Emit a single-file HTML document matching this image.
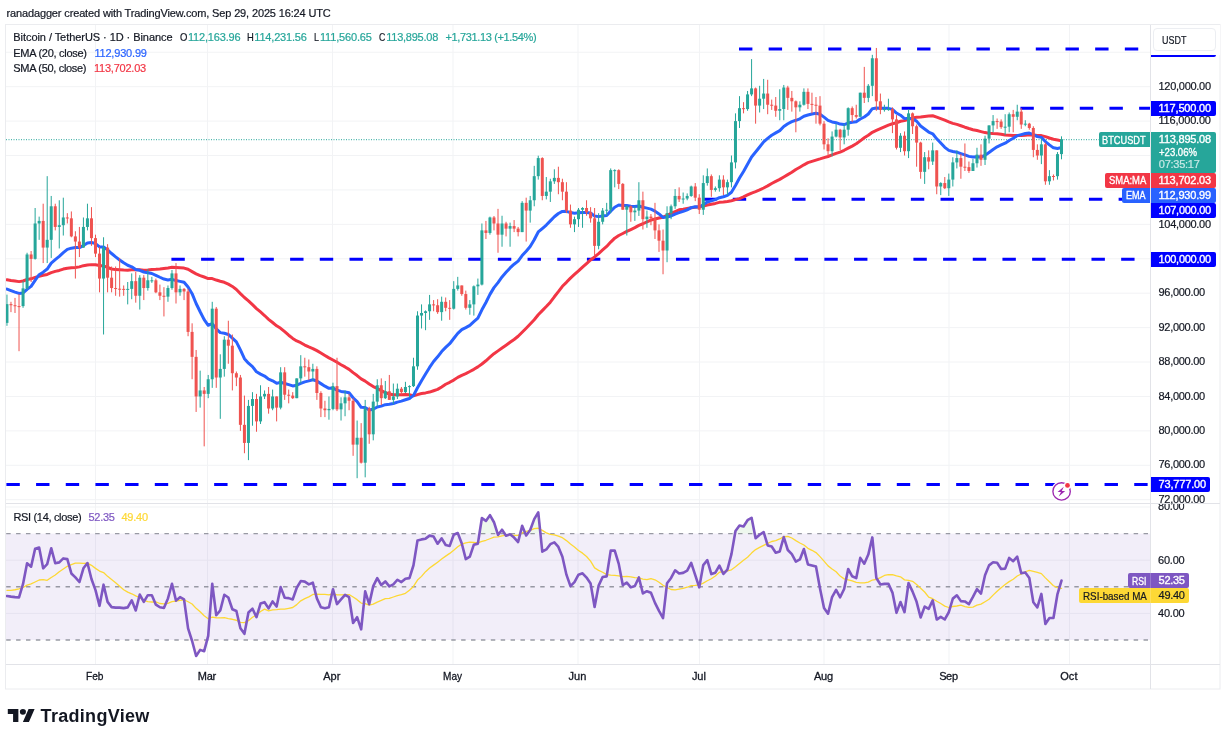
<!DOCTYPE html>
<html><head><meta charset="utf-8"><title>BTCUSDT</title>
<style>
html,body{margin:0;padding:0;background:#fff;}
body{width:1229px;height:742px;position:relative;overflow:hidden;font-family:"Liberation Sans",sans-serif;}
.t{position:absolute;white-space:pre;font-family:"Liberation Sans",sans-serif;}
</style></head><body>
<svg width="1229" height="742" viewBox="0 0 1229 742" style="position:absolute;left:0;top:0"><defs><clipPath id="cm"><rect x="6" y="25" width="1144" height="478"/></clipPath><clipPath id="cr"><rect x="6" y="504" width="1144" height="160"/></clipPath></defs><rect x="5.5" y="24.5" width="1214.5" height="664.5" fill="#fff" stroke="#ebecef" stroke-width="1"/><rect x="95.0" y="25" width="1" height="639" fill="#f2f3f5"/><rect x="207.0" y="25" width="1" height="639" fill="#f2f3f5"/><rect x="332.0" y="25" width="1" height="639" fill="#f2f3f5"/><rect x="452.5" y="25" width="1" height="639" fill="#f2f3f5"/><rect x="577.5" y="25" width="1" height="639" fill="#f2f3f5"/><rect x="699.0" y="25" width="1" height="639" fill="#f2f3f5"/><rect x="823.5" y="25" width="1" height="639" fill="#f2f3f5"/><rect x="948.5" y="25" width="1" height="639" fill="#f2f3f5"/><rect x="1069.0" y="25" width="1" height="639" fill="#f2f3f5"/><rect x="6" y="499.21" width="1144" height="1" fill="#f2f3f5"/><rect x="6" y="464.79" width="1144" height="1" fill="#f2f3f5"/><rect x="6" y="430.37" width="1144" height="1" fill="#f2f3f5"/><rect x="6" y="395.95" width="1144" height="1" fill="#f2f3f5"/><rect x="6" y="361.53" width="1144" height="1" fill="#f2f3f5"/><rect x="6" y="327.11" width="1144" height="1" fill="#f2f3f5"/><rect x="6" y="292.69" width="1144" height="1" fill="#f2f3f5"/><rect x="6" y="258.27" width="1144" height="1" fill="#f2f3f5"/><rect x="6" y="223.85" width="1144" height="1" fill="#f2f3f5"/><rect x="6" y="189.43" width="1144" height="1" fill="#f2f3f5"/><rect x="6" y="155.01" width="1144" height="1" fill="#f2f3f5"/><rect x="6" y="120.59" width="1144" height="1" fill="#f2f3f5"/><rect x="6" y="86.17" width="1144" height="1" fill="#f2f3f5"/><rect x="6" y="51.75" width="1144" height="1" fill="#f2f3f5"/><rect x="6" y="506.50" width="1144" height="1" fill="#f2f3f5"/><rect x="6" y="559.70" width="1144" height="1" fill="#f2f3f5"/><rect x="6" y="612.90" width="1144" height="1" fill="#f2f3f5"/><rect x="6" y="533.60" width="1144" height="106.40" fill="#7e57c2" fill-opacity="0.1"/><line x1="6.2" x2="1148.5" y1="533.60" y2="533.60" stroke="#787b86" stroke-opacity="0.75" stroke-width="1.4" stroke-dasharray="4.45 5.44"/><line x1="6.2" x2="1148.5" y1="586.80" y2="586.80" stroke="#787b86" stroke-opacity="0.75" stroke-width="1.4" stroke-dasharray="4.45 5.44"/><line x1="6.2" x2="1148.5" y1="640.00" y2="640.00" stroke="#787b86" stroke-opacity="0.75" stroke-width="1.4" stroke-dasharray="4.45 5.44"/><line x1="6" x2="1150" y1="139.7" y2="139.7" stroke="#26a69a" stroke-width="1" stroke-dasharray="1 1.5"/><g clip-path="url(#cm)"><line x1="739" x2="1150" y1="49" y2="49" stroke="#0000ff" stroke-width="3" stroke-dasharray="13.4 16.28"/><line x1="901.7" x2="1150" y1="108.3" y2="108.3" stroke="#0000ff" stroke-width="3" stroke-dasharray="13.4 16.28"/><line x1="703.1" x2="1150" y1="199.2" y2="199.2" stroke="#0000ff" stroke-width="3" stroke-dasharray="13.4 16.28"/><line x1="171.4" x2="1150" y1="259.3" y2="259.3" stroke="#0000ff" stroke-width="3" stroke-dasharray="13.4 16.28"/><line x1="6.4" x2="1150" y1="484.4" y2="484.4" stroke="#0000ff" stroke-width="3" stroke-dasharray="13.4 16.28"/><polyline points="6.95,279.71 10.97,280.47 15.00,281.02 19.02,281.63 23.05,281.01 27.07,279.53 31.10,278.83 35.12,277.37 39.15,276.16 43.17,275.32 47.20,274.46 51.22,272.69 55.25,271.34 59.27,270.43 63.30,269.07 67.32,268.21 71.35,267.73 75.38,267.57 79.40,266.89 83.42,265.66 87.45,265.04 91.47,264.63 95.50,264.77 99.53,265.41 103.55,265.94 107.58,267.35 111.60,268.99 115.62,269.62 119.65,269.79 123.68,270.04 127.70,270.17 131.72,269.79 135.75,269.66 139.78,269.81 143.80,270.29 147.82,270.00 151.85,269.45 155.88,269.31 159.90,268.97 163.93,268.49 167.95,267.97 171.98,267.33 176.00,267.47 180.03,267.76 184.05,268.11 188.07,269.30 192.10,271.64 196.12,273.86 200.15,275.63 204.18,277.04 208.20,278.54 212.23,278.61 216.25,280.04 220.28,281.29 224.30,282.32 228.33,284.14 232.35,286.43 236.38,289.51 240.40,293.59 244.43,297.49 248.45,300.81 252.48,304.67 256.50,308.56 260.52,311.98 264.55,315.51 268.58,319.31 272.60,322.52 276.62,325.84 280.65,328.33 284.68,331.69 288.70,335.23 292.73,338.44 296.75,340.93 300.77,342.69 304.80,345.08 308.83,346.95 312.85,348.57 316.88,350.65 320.90,353.05 324.93,355.46 328.95,357.86 332.98,359.96 337.00,362.23 341.03,364.74 345.05,366.93 349.08,369.34 353.10,372.62 357.12,375.53 361.15,378.87 365.18,381.11 369.20,384.03 373.23,386.60 377.25,388.46 381.28,390.64 385.30,392.64 389.33,394.00 393.35,394.79 397.38,394.63 401.40,394.67 405.43,394.53 409.45,394.67 413.48,395.82 417.50,394.58 421.53,393.46 425.55,392.90 429.58,392.07 433.60,390.71 437.63,389.40 441.65,386.94 445.68,384.24 449.70,382.29 453.73,380.09 457.75,377.37 461.78,375.32 465.80,373.60 469.83,371.52 473.85,369.32 477.88,366.86 481.90,364.02 485.93,360.78 489.95,357.22 493.98,353.73 498.00,350.85 502.03,348.00 506.05,345.22 510.08,342.32 514.10,339.51 518.12,336.29 522.15,332.18 526.17,328.19 530.20,324.01 534.23,319.81 538.25,314.79 542.28,310.64 546.30,306.53 550.33,302.14 554.35,296.80 558.38,291.69 562.40,286.27 566.43,282.31 570.45,278.11 574.48,274.47 578.50,270.95 582.53,267.15 586.55,263.57 590.58,259.94 594.60,256.93 598.62,253.59 602.65,249.96 606.68,246.41 610.70,242.09 614.73,238.17 618.75,235.54 622.78,233.47 626.80,231.37 630.83,229.53 634.85,227.64 638.88,225.40 642.90,223.75 646.93,221.92 650.95,220.12 654.98,218.95 659.00,218.05 663.03,217.18 667.05,215.29 671.08,213.33 675.10,211.52 679.12,209.81 683.15,209.18 687.18,208.44 691.20,207.82 695.23,207.30 699.25,206.80 703.28,205.99 707.30,204.94 711.33,204.22 715.35,203.41 719.38,202.36 723.40,202.05 727.43,201.48 731.45,200.73 735.48,199.63 739.50,198.63 743.53,196.89 747.55,194.94 751.58,193.09 755.60,191.64 759.63,189.97 763.65,188.01 767.68,185.89 771.70,183.52 775.73,181.35 779.75,179.34 783.78,176.93 787.80,174.64 791.83,172.30 795.85,169.53 799.88,167.19 803.90,164.81 807.93,162.69 811.95,161.39 815.98,160.09 820.00,158.89 824.03,157.58 828.05,156.48 832.08,154.97 836.10,153.35 840.13,152.09 844.15,150.30 848.18,148.13 852.20,146.07 856.23,143.80 860.25,140.84 864.28,137.78 868.30,135.24 872.33,132.28 876.35,130.38 880.38,128.59 884.40,126.80 888.43,125.07 892.45,123.72 896.48,122.72 900.50,121.24 904.53,120.61 908.55,119.35 912.58,118.08 916.60,117.17 920.63,117.01 924.65,116.41 928.68,116.00 932.70,115.75 936.73,117.06 940.75,118.56 944.78,120.14 948.80,121.85 952.83,123.33 956.85,124.38 960.88,125.74 964.90,127.21 968.93,128.53 972.95,129.69 976.98,130.56 981.00,131.58 985.03,132.60 989.05,133.15 993.08,133.55 997.10,133.83 1001.13,134.28 1005.15,134.98 1009.18,135.18 1013.20,135.42 1017.23,135.54 1021.25,135.56 1025.28,135.15 1029.30,134.68 1033.33,134.95 1037.35,135.47 1041.38,135.60 1045.40,136.64 1049.43,138.00 1053.45,139.22 1057.48,139.97 1061.50,140.90" fill="none" stroke="#f23645" stroke-width="3" stroke-linejoin="round" stroke-linecap="round" /><polyline points="6.95,289.03 10.97,290.57 15.00,292.05 19.02,293.42 23.05,292.94 27.07,289.28 31.10,286.38 35.12,280.39 39.15,274.72 43.17,272.14 47.20,269.06 51.22,263.08 55.25,259.64 59.27,256.36 63.30,252.66 67.32,249.39 71.35,248.15 75.38,247.52 79.40,247.53 83.42,245.57 87.45,242.97 91.47,242.51 95.50,243.57 99.53,246.90 103.55,246.97 107.58,249.89 111.60,253.52 115.62,256.89 119.65,259.94 123.68,262.78 127.70,265.26 131.72,266.78 135.75,269.54 139.78,270.32 143.80,272.00 147.82,272.79 151.85,273.50 155.88,275.30 159.90,277.25 163.93,279.09 167.95,279.94 171.98,279.32 176.00,280.56 180.03,281.35 184.05,282.32 188.07,287.04 192.10,293.69 196.12,303.48 200.15,311.76 204.18,319.58 208.20,325.26 212.23,323.68 216.25,328.81 220.28,332.63 224.30,333.30 228.33,334.48 232.35,338.17 236.38,341.91 240.40,349.81 244.43,358.68 248.45,363.18 252.48,366.59 256.50,371.81 260.52,374.16 264.55,376.04 268.58,379.13 272.60,380.78 276.62,383.34 280.65,382.29 284.68,383.47 288.70,384.63 292.73,385.92 296.75,385.20 300.77,383.40 304.80,381.86 308.83,380.87 312.85,379.73 316.88,381.00 320.90,383.62 324.93,386.15 328.95,388.32 332.98,388.11 337.00,390.13 341.03,391.39 345.05,391.95 349.08,392.79 353.10,397.73 357.12,401.54 361.15,407.37 365.18,407.48 369.20,410.03 373.23,409.23 377.25,406.95 381.28,406.11 385.30,404.70 389.33,404.24 393.35,403.50 397.38,402.09 401.40,401.14 405.43,399.79 409.45,398.49 413.48,395.43 417.50,387.82 421.53,380.70 425.55,374.08 429.58,367.44 433.60,361.52 437.63,356.82 441.65,351.58 445.68,347.41 449.70,343.72 453.73,338.50 457.75,333.44 461.78,329.69 465.80,327.61 469.83,325.40 473.85,321.67 477.88,318.14 481.90,309.78 485.93,302.47 489.95,294.37 493.98,287.62 498.00,282.58 502.03,276.95 506.05,272.35 510.08,267.94 514.10,264.20 518.12,261.14 522.15,255.59 526.17,251.30 530.20,246.44 534.23,239.75 538.25,231.97 542.28,228.54 546.30,225.03 550.33,220.87 554.35,216.77 558.38,213.48 562.40,211.40 566.43,211.32 570.45,212.56 574.48,213.19 578.50,212.86 582.53,212.40 586.55,212.39 590.58,212.96 594.60,216.09 598.62,216.63 602.65,216.05 606.68,215.45 610.70,211.14 614.73,207.23 618.75,205.01 622.78,205.46 626.80,205.54 630.83,206.18 634.85,206.60 638.88,206.00 642.90,207.25 646.93,208.14 650.95,209.11 654.98,211.14 659.00,213.95 663.03,217.43 667.05,217.03 671.08,216.00 675.10,214.09 679.12,212.69 683.15,211.35 687.18,209.88 691.20,207.65 695.23,206.70 699.25,206.99 703.28,204.71 707.30,201.99 711.33,200.84 715.35,199.64 719.38,197.73 723.40,196.74 727.43,195.36 731.45,192.22 735.48,185.44 739.50,178.08 743.53,171.51 747.55,164.17 751.58,156.95 755.60,152.06 759.63,146.98 763.65,141.89 767.68,138.35 771.70,135.23 775.73,132.90 779.75,130.63 783.78,126.53 787.80,123.80 791.83,121.65 795.85,120.29 799.88,118.81 803.90,116.24 807.93,115.06 811.95,114.08 815.98,113.27 820.00,114.26 824.03,117.12 828.05,120.37 832.08,121.91 836.10,122.66 840.13,124.06 844.15,124.60 848.18,123.04 852.20,122.28 856.23,121.75 860.25,118.99 864.28,116.97 868.30,114.01 872.33,108.70 876.35,107.99 880.38,108.18 884.40,108.26 888.43,108.33 892.45,109.38 896.48,113.04 900.50,115.20 904.53,118.63 908.55,118.13 912.58,118.90 916.60,121.16 920.63,125.99 924.65,128.96 928.68,132.06 932.70,133.80 936.73,138.82 940.75,143.03 944.78,147.34 948.80,150.41 952.83,151.55 956.85,152.17 960.88,153.56 964.90,154.85 968.93,156.39 972.95,157.04 976.98,156.81 981.00,157.10 985.03,155.34 989.05,152.49 993.08,149.50 997.10,146.83 1001.13,144.96 1005.15,143.22 1009.18,140.45 1013.20,138.20 1017.23,135.67 1021.25,134.61 1025.28,133.57 1029.30,133.03 1033.33,134.64 1037.35,136.63 1041.38,137.36 1045.40,141.55 1049.43,144.85 1053.45,147.83 1057.48,148.43 1061.50,147.55" fill="none" stroke="#2962ff" stroke-width="3" stroke-linejoin="round" stroke-linecap="round" /><rect x="6.45" y="294.57" width="1" height="31.24" fill="#26a69a"/>
<rect x="5.45" y="304.12" width="3" height="18.76" fill="#26a69a"/>
<rect x="10.47" y="301.80" width="1" height="10.33" fill="#ef5350"/>
<rect x="9.47" y="304.12" width="3" height="1.12" fill="#ef5350"/>
<rect x="14.50" y="297.92" width="1" height="15.06" fill="#ef5350"/>
<rect x="13.50" y="305.24" width="3" height="1.00" fill="#ef5350"/>
<rect x="18.52" y="294.05" width="1" height="57.14" fill="#ef5350"/>
<rect x="17.52" y="306.10" width="3" height="1.00" fill="#ef5350"/>
<rect x="22.55" y="281.14" width="1" height="26.68" fill="#26a69a"/>
<rect x="21.55" y="288.37" width="3" height="17.73" fill="#26a69a"/>
<rect x="26.57" y="252.75" width="1" height="37.00" fill="#26a69a"/>
<rect x="25.57" y="254.47" width="3" height="33.90" fill="#26a69a"/>
<rect x="30.60" y="251.03" width="1" height="30.98" fill="#ef5350"/>
<rect x="29.60" y="254.47" width="3" height="4.39" fill="#ef5350"/>
<rect x="34.62" y="208.00" width="1" height="51.63" fill="#26a69a"/>
<rect x="33.62" y="223.49" width="3" height="35.37" fill="#26a69a"/>
<rect x="38.65" y="216.61" width="1" height="23.23" fill="#26a69a"/>
<rect x="37.65" y="220.91" width="3" height="2.58" fill="#26a69a"/>
<rect x="42.67" y="203.70" width="1" height="59.37" fill="#ef5350"/>
<rect x="41.67" y="220.91" width="3" height="26.68" fill="#ef5350"/>
<rect x="46.70" y="176.16" width="1" height="86.91" fill="#26a69a"/>
<rect x="45.70" y="239.84" width="3" height="7.74" fill="#26a69a"/>
<rect x="50.72" y="195.95" width="1" height="61.96" fill="#26a69a"/>
<rect x="49.72" y="206.28" width="3" height="33.56" fill="#26a69a"/>
<rect x="54.75" y="203.70" width="1" height="26.68" fill="#ef5350"/>
<rect x="53.75" y="206.28" width="3" height="20.65" fill="#ef5350"/>
<rect x="58.77" y="200.26" width="1" height="48.19" fill="#26a69a"/>
<rect x="57.77" y="225.21" width="3" height="1.72" fill="#26a69a"/>
<rect x="62.80" y="197.67" width="1" height="37.86" fill="#26a69a"/>
<rect x="61.80" y="217.47" width="3" height="7.74" fill="#26a69a"/>
<rect x="66.82" y="213.16" width="1" height="10.33" fill="#ef5350"/>
<rect x="65.82" y="217.47" width="3" height="1.00" fill="#ef5350"/>
<rect x="70.85" y="211.44" width="1" height="25.82" fill="#ef5350"/>
<rect x="69.85" y="218.33" width="3" height="18.07" fill="#ef5350"/>
<rect x="74.88" y="231.23" width="1" height="47.33" fill="#ef5350"/>
<rect x="73.88" y="236.40" width="3" height="5.16" fill="#ef5350"/>
<rect x="78.90" y="226.93" width="1" height="30.12" fill="#ef5350"/>
<rect x="77.90" y="241.56" width="3" height="6.02" fill="#ef5350"/>
<rect x="82.92" y="217.47" width="1" height="30.12" fill="#26a69a"/>
<rect x="81.92" y="226.93" width="3" height="20.65" fill="#26a69a"/>
<rect x="86.95" y="203.70" width="1" height="26.68" fill="#26a69a"/>
<rect x="85.95" y="218.33" width="3" height="8.60" fill="#26a69a"/>
<rect x="90.97" y="207.14" width="1" height="38.72" fill="#ef5350"/>
<rect x="89.97" y="218.33" width="3" height="19.79" fill="#ef5350"/>
<rect x="95.00" y="234.68" width="1" height="22.37" fill="#ef5350"/>
<rect x="94.00" y="238.12" width="3" height="15.49" fill="#ef5350"/>
<rect x="99.03" y="246.72" width="1" height="45.61" fill="#ef5350"/>
<rect x="98.03" y="253.61" width="3" height="24.95" fill="#ef5350"/>
<rect x="103.05" y="237.26" width="1" height="97.24" fill="#26a69a"/>
<rect x="102.05" y="247.58" width="3" height="30.98" fill="#26a69a"/>
<rect x="107.08" y="244.14" width="1" height="48.19" fill="#ef5350"/>
<rect x="106.08" y="247.58" width="3" height="30.12" fill="#ef5350"/>
<rect x="111.10" y="266.51" width="1" height="25.81" fill="#ef5350"/>
<rect x="110.10" y="277.70" width="3" height="10.33" fill="#ef5350"/>
<rect x="115.12" y="266.51" width="1" height="29.26" fill="#ef5350"/>
<rect x="114.12" y="288.03" width="3" height="1.00" fill="#ef5350"/>
<rect x="119.15" y="257.91" width="1" height="38.72" fill="#ef5350"/>
<rect x="118.15" y="288.72" width="3" height="1.00" fill="#ef5350"/>
<rect x="123.18" y="285.45" width="1" height="10.33" fill="#ef5350"/>
<rect x="122.18" y="288.89" width="3" height="1.00" fill="#ef5350"/>
<rect x="127.20" y="282.00" width="1" height="22.37" fill="#26a69a"/>
<rect x="126.20" y="288.89" width="3" height="1.00" fill="#26a69a"/>
<rect x="131.22" y="273.40" width="1" height="25.82" fill="#26a69a"/>
<rect x="130.22" y="281.14" width="3" height="7.74" fill="#26a69a"/>
<rect x="135.25" y="271.68" width="1" height="30.98" fill="#ef5350"/>
<rect x="134.25" y="281.14" width="3" height="14.63" fill="#ef5350"/>
<rect x="139.28" y="275.12" width="1" height="34.42" fill="#26a69a"/>
<rect x="138.28" y="277.70" width="3" height="18.07" fill="#26a69a"/>
<rect x="143.30" y="275.12" width="1" height="24.95" fill="#ef5350"/>
<rect x="142.30" y="277.70" width="3" height="10.33" fill="#ef5350"/>
<rect x="147.32" y="269.10" width="1" height="21.51" fill="#26a69a"/>
<rect x="146.32" y="280.28" width="3" height="7.74" fill="#26a69a"/>
<rect x="151.35" y="276.84" width="1" height="6.02" fill="#26a69a"/>
<rect x="150.35" y="280.28" width="3" height="1.00" fill="#26a69a"/>
<rect x="155.38" y="278.56" width="1" height="14.63" fill="#ef5350"/>
<rect x="154.38" y="280.28" width="3" height="12.05" fill="#ef5350"/>
<rect x="159.40" y="284.59" width="1" height="15.49" fill="#ef5350"/>
<rect x="158.40" y="292.33" width="3" height="3.44" fill="#ef5350"/>
<rect x="163.43" y="287.17" width="1" height="29.26" fill="#ef5350"/>
<rect x="162.43" y="295.77" width="3" height="1.00" fill="#ef5350"/>
<rect x="167.45" y="285.45" width="1" height="16.35" fill="#26a69a"/>
<rect x="166.45" y="288.03" width="3" height="8.61" fill="#26a69a"/>
<rect x="171.48" y="269.96" width="1" height="19.79" fill="#26a69a"/>
<rect x="170.48" y="273.40" width="3" height="14.63" fill="#26a69a"/>
<rect x="175.50" y="263.07" width="1" height="40.44" fill="#ef5350"/>
<rect x="174.50" y="273.40" width="3" height="18.93" fill="#ef5350"/>
<rect x="179.53" y="285.45" width="1" height="10.33" fill="#26a69a"/>
<rect x="178.53" y="288.89" width="3" height="3.44" fill="#26a69a"/>
<rect x="183.55" y="288.03" width="1" height="12.05" fill="#ef5350"/>
<rect x="182.55" y="288.89" width="3" height="2.58" fill="#ef5350"/>
<rect x="187.57" y="288.89" width="1" height="47.33" fill="#ef5350"/>
<rect x="186.57" y="291.47" width="3" height="40.44" fill="#ef5350"/>
<rect x="191.60" y="323.31" width="1" height="55.93" fill="#ef5350"/>
<rect x="190.60" y="331.91" width="3" height="24.95" fill="#ef5350"/>
<rect x="195.62" y="349.98" width="1" height="61.96" fill="#ef5350"/>
<rect x="194.62" y="356.87" width="3" height="39.58" fill="#ef5350"/>
<rect x="199.65" y="370.63" width="1" height="37.00" fill="#26a69a"/>
<rect x="198.65" y="390.43" width="3" height="6.02" fill="#26a69a"/>
<rect x="203.68" y="386.98" width="1" height="59.37" fill="#ef5350"/>
<rect x="202.68" y="390.43" width="3" height="3.44" fill="#ef5350"/>
<rect x="207.70" y="374.94" width="1" height="23.23" fill="#26a69a"/>
<rect x="206.70" y="379.24" width="3" height="14.63" fill="#26a69a"/>
<rect x="211.73" y="301.80" width="1" height="86.05" fill="#26a69a"/>
<rect x="210.73" y="308.68" width="3" height="70.56" fill="#26a69a"/>
<rect x="215.75" y="306.96" width="1" height="80.89" fill="#ef5350"/>
<rect x="214.75" y="308.68" width="3" height="68.84" fill="#ef5350"/>
<rect x="219.78" y="354.29" width="1" height="64.54" fill="#26a69a"/>
<rect x="218.78" y="368.91" width="3" height="8.61" fill="#26a69a"/>
<rect x="223.80" y="336.22" width="1" height="40.44" fill="#26a69a"/>
<rect x="222.80" y="339.66" width="3" height="29.26" fill="#26a69a"/>
<rect x="227.83" y="320.73" width="1" height="43.02" fill="#ef5350"/>
<rect x="226.83" y="339.66" width="3" height="6.02" fill="#ef5350"/>
<rect x="231.85" y="334.49" width="1" height="55.93" fill="#ef5350"/>
<rect x="230.85" y="345.68" width="3" height="27.54" fill="#ef5350"/>
<rect x="235.88" y="371.50" width="1" height="14.63" fill="#ef5350"/>
<rect x="234.88" y="373.22" width="3" height="4.30" fill="#ef5350"/>
<rect x="239.90" y="374.94" width="1" height="55.93" fill="#ef5350"/>
<rect x="238.90" y="377.52" width="3" height="47.33" fill="#ef5350"/>
<rect x="243.93" y="395.59" width="1" height="57.65" fill="#ef5350"/>
<rect x="242.93" y="424.85" width="3" height="18.07" fill="#ef5350"/>
<rect x="247.95" y="399.89" width="1" height="60.24" fill="#26a69a"/>
<rect x="246.95" y="405.92" width="3" height="37.00" fill="#26a69a"/>
<rect x="251.98" y="392.15" width="1" height="33.56" fill="#26a69a"/>
<rect x="250.98" y="399.03" width="3" height="6.88" fill="#26a69a"/>
<rect x="256.00" y="393.87" width="1" height="37.86" fill="#ef5350"/>
<rect x="255.00" y="399.03" width="3" height="22.37" fill="#ef5350"/>
<rect x="260.02" y="385.26" width="1" height="38.72" fill="#26a69a"/>
<rect x="259.02" y="396.45" width="3" height="24.95" fill="#26a69a"/>
<rect x="264.05" y="390.43" width="1" height="8.61" fill="#26a69a"/>
<rect x="263.05" y="393.87" width="3" height="2.58" fill="#26a69a"/>
<rect x="268.08" y="386.98" width="1" height="26.68" fill="#ef5350"/>
<rect x="267.08" y="393.87" width="3" height="14.63" fill="#ef5350"/>
<rect x="272.10" y="389.57" width="1" height="20.65" fill="#26a69a"/>
<rect x="271.10" y="396.45" width="3" height="12.05" fill="#26a69a"/>
<rect x="276.12" y="396.45" width="1" height="24.95" fill="#ef5350"/>
<rect x="275.12" y="396.45" width="3" height="11.19" fill="#ef5350"/>
<rect x="280.15" y="367.19" width="1" height="42.16" fill="#26a69a"/>
<rect x="279.15" y="372.36" width="3" height="35.28" fill="#26a69a"/>
<rect x="284.18" y="367.19" width="1" height="32.70" fill="#ef5350"/>
<rect x="283.18" y="372.36" width="3" height="22.37" fill="#ef5350"/>
<rect x="288.20" y="389.57" width="1" height="13.77" fill="#ef5350"/>
<rect x="287.20" y="394.73" width="3" height="1.00" fill="#ef5350"/>
<rect x="292.23" y="392.15" width="1" height="6.88" fill="#ef5350"/>
<rect x="291.23" y="395.59" width="3" height="2.58" fill="#ef5350"/>
<rect x="296.25" y="378.38" width="1" height="19.79" fill="#26a69a"/>
<rect x="295.25" y="378.38" width="3" height="19.79" fill="#26a69a"/>
<rect x="300.27" y="355.15" width="1" height="28.40" fill="#26a69a"/>
<rect x="299.27" y="366.33" width="3" height="12.05" fill="#26a69a"/>
<rect x="304.30" y="357.73" width="1" height="18.93" fill="#ef5350"/>
<rect x="303.30" y="366.33" width="3" height="1.00" fill="#ef5350"/>
<rect x="308.33" y="359.45" width="1" height="20.65" fill="#ef5350"/>
<rect x="307.33" y="367.19" width="3" height="4.30" fill="#ef5350"/>
<rect x="312.35" y="363.75" width="1" height="17.21" fill="#26a69a"/>
<rect x="311.35" y="368.91" width="3" height="2.58" fill="#26a69a"/>
<rect x="316.38" y="366.33" width="1" height="33.56" fill="#ef5350"/>
<rect x="315.38" y="368.91" width="3" height="24.09" fill="#ef5350"/>
<rect x="320.40" y="391.29" width="1" height="25.81" fill="#ef5350"/>
<rect x="319.40" y="393.01" width="3" height="15.49" fill="#ef5350"/>
<rect x="324.43" y="400.75" width="1" height="16.35" fill="#ef5350"/>
<rect x="323.43" y="408.50" width="3" height="1.72" fill="#ef5350"/>
<rect x="328.45" y="396.45" width="1" height="23.23" fill="#26a69a"/>
<rect x="327.45" y="408.93" width="3" height="1.29" fill="#26a69a"/>
<rect x="332.48" y="382.68" width="1" height="27.54" fill="#26a69a"/>
<rect x="331.48" y="386.12" width="3" height="22.80" fill="#26a69a"/>
<rect x="336.50" y="357.73" width="1" height="53.35" fill="#ef5350"/>
<rect x="335.50" y="386.12" width="3" height="23.23" fill="#ef5350"/>
<rect x="340.53" y="397.31" width="1" height="23.23" fill="#26a69a"/>
<rect x="339.53" y="403.33" width="3" height="6.02" fill="#26a69a"/>
<rect x="344.55" y="390.43" width="1" height="25.81" fill="#26a69a"/>
<rect x="343.55" y="397.31" width="3" height="6.02" fill="#26a69a"/>
<rect x="348.58" y="393.87" width="1" height="16.35" fill="#ef5350"/>
<rect x="347.58" y="397.31" width="3" height="3.44" fill="#ef5350"/>
<rect x="352.60" y="398.17" width="1" height="57.65" fill="#ef5350"/>
<rect x="351.60" y="400.75" width="3" height="43.89" fill="#ef5350"/>
<rect x="356.62" y="420.54" width="1" height="57.65" fill="#26a69a"/>
<rect x="355.62" y="437.75" width="3" height="6.88" fill="#26a69a"/>
<rect x="360.65" y="423.13" width="1" height="40.44" fill="#ef5350"/>
<rect x="359.65" y="437.75" width="3" height="24.95" fill="#ef5350"/>
<rect x="364.68" y="399.89" width="1" height="77.44" fill="#26a69a"/>
<rect x="363.68" y="408.50" width="3" height="54.21" fill="#26a69a"/>
<rect x="368.70" y="406.78" width="1" height="37.00" fill="#ef5350"/>
<rect x="367.70" y="408.50" width="3" height="25.81" fill="#ef5350"/>
<rect x="372.73" y="393.87" width="1" height="46.47" fill="#26a69a"/>
<rect x="371.73" y="401.61" width="3" height="32.70" fill="#26a69a"/>
<rect x="376.75" y="379.24" width="1" height="27.54" fill="#26a69a"/>
<rect x="375.75" y="385.26" width="3" height="16.35" fill="#26a69a"/>
<rect x="380.78" y="378.38" width="1" height="26.68" fill="#ef5350"/>
<rect x="379.78" y="385.26" width="3" height="12.91" fill="#ef5350"/>
<rect x="384.80" y="380.96" width="1" height="18.07" fill="#26a69a"/>
<rect x="383.80" y="391.29" width="3" height="6.88" fill="#26a69a"/>
<rect x="388.83" y="374.94" width="1" height="24.95" fill="#ef5350"/>
<rect x="387.83" y="391.29" width="3" height="8.60" fill="#ef5350"/>
<rect x="392.85" y="383.54" width="1" height="20.65" fill="#26a69a"/>
<rect x="391.85" y="396.45" width="3" height="3.44" fill="#26a69a"/>
<rect x="396.88" y="383.54" width="1" height="15.49" fill="#26a69a"/>
<rect x="395.88" y="388.71" width="3" height="7.74" fill="#26a69a"/>
<rect x="400.90" y="386.98" width="1" height="7.74" fill="#ef5350"/>
<rect x="399.90" y="388.71" width="3" height="3.44" fill="#ef5350"/>
<rect x="404.93" y="381.82" width="1" height="11.19" fill="#26a69a"/>
<rect x="403.93" y="386.98" width="3" height="5.16" fill="#26a69a"/>
<rect x="408.95" y="385.26" width="1" height="12.05" fill="#26a69a"/>
<rect x="407.95" y="386.12" width="3" height="1.00" fill="#26a69a"/>
<rect x="412.98" y="357.73" width="1" height="29.26" fill="#26a69a"/>
<rect x="411.98" y="366.33" width="3" height="19.79" fill="#26a69a"/>
<rect x="417.00" y="311.26" width="1" height="58.51" fill="#26a69a"/>
<rect x="416.00" y="315.56" width="3" height="50.77" fill="#26a69a"/>
<rect x="421.03" y="304.38" width="1" height="24.09" fill="#26a69a"/>
<rect x="420.03" y="312.98" width="3" height="2.58" fill="#26a69a"/>
<rect x="425.05" y="310.40" width="1" height="19.79" fill="#26a69a"/>
<rect x="424.05" y="311.26" width="3" height="1.72" fill="#26a69a"/>
<rect x="429.08" y="294.91" width="1" height="24.95" fill="#26a69a"/>
<rect x="428.08" y="304.38" width="3" height="6.88" fill="#26a69a"/>
<rect x="433.10" y="300.07" width="1" height="11.19" fill="#ef5350"/>
<rect x="432.10" y="304.38" width="3" height="1.00" fill="#ef5350"/>
<rect x="437.13" y="299.21" width="1" height="14.63" fill="#ef5350"/>
<rect x="436.13" y="305.24" width="3" height="6.88" fill="#ef5350"/>
<rect x="441.15" y="296.63" width="1" height="24.09" fill="#26a69a"/>
<rect x="440.15" y="301.80" width="3" height="10.33" fill="#26a69a"/>
<rect x="445.18" y="297.49" width="1" height="13.77" fill="#ef5350"/>
<rect x="444.18" y="301.80" width="3" height="6.02" fill="#ef5350"/>
<rect x="449.20" y="300.07" width="1" height="19.79" fill="#ef5350"/>
<rect x="448.20" y="307.82" width="3" height="1.00" fill="#ef5350"/>
<rect x="453.23" y="281.14" width="1" height="28.40" fill="#26a69a"/>
<rect x="452.23" y="288.89" width="3" height="19.79" fill="#26a69a"/>
<rect x="457.25" y="276.84" width="1" height="13.77" fill="#26a69a"/>
<rect x="456.25" y="285.45" width="3" height="3.44" fill="#26a69a"/>
<rect x="461.28" y="285.45" width="1" height="10.33" fill="#ef5350"/>
<rect x="460.28" y="285.45" width="3" height="8.61" fill="#ef5350"/>
<rect x="465.30" y="290.61" width="1" height="18.93" fill="#ef5350"/>
<rect x="464.30" y="294.05" width="3" height="13.77" fill="#ef5350"/>
<rect x="469.33" y="300.07" width="1" height="14.63" fill="#26a69a"/>
<rect x="468.33" y="304.38" width="3" height="3.44" fill="#26a69a"/>
<rect x="473.35" y="285.45" width="1" height="30.12" fill="#26a69a"/>
<rect x="472.35" y="286.31" width="3" height="18.07" fill="#26a69a"/>
<rect x="477.38" y="278.56" width="1" height="16.35" fill="#26a69a"/>
<rect x="476.38" y="284.59" width="3" height="1.72" fill="#26a69a"/>
<rect x="481.40" y="223.49" width="1" height="61.96" fill="#26a69a"/>
<rect x="480.40" y="230.37" width="3" height="54.21" fill="#26a69a"/>
<rect x="485.43" y="220.91" width="1" height="18.07" fill="#ef5350"/>
<rect x="484.43" y="230.37" width="3" height="2.58" fill="#ef5350"/>
<rect x="489.45" y="216.61" width="1" height="18.07" fill="#26a69a"/>
<rect x="488.45" y="217.47" width="3" height="15.49" fill="#26a69a"/>
<rect x="493.48" y="216.00" width="1" height="14.37" fill="#ef5350"/>
<rect x="492.48" y="217.47" width="3" height="6.02" fill="#ef5350"/>
<rect x="497.50" y="208.86" width="1" height="43.89" fill="#ef5350"/>
<rect x="496.50" y="223.49" width="3" height="11.19" fill="#ef5350"/>
<rect x="501.53" y="215.75" width="1" height="30.98" fill="#26a69a"/>
<rect x="500.53" y="223.49" width="3" height="11.19" fill="#26a69a"/>
<rect x="505.55" y="221.77" width="1" height="14.63" fill="#ef5350"/>
<rect x="504.55" y="223.49" width="3" height="5.16" fill="#ef5350"/>
<rect x="509.58" y="222.63" width="1" height="24.09" fill="#26a69a"/>
<rect x="508.58" y="226.07" width="3" height="2.58" fill="#26a69a"/>
<rect x="513.60" y="220.05" width="1" height="12.05" fill="#ef5350"/>
<rect x="512.60" y="226.07" width="3" height="2.58" fill="#ef5350"/>
<rect x="517.62" y="226.93" width="1" height="9.47" fill="#ef5350"/>
<rect x="516.62" y="228.65" width="3" height="3.44" fill="#ef5350"/>
<rect x="521.65" y="201.12" width="1" height="30.98" fill="#26a69a"/>
<rect x="520.65" y="202.84" width="3" height="29.26" fill="#26a69a"/>
<rect x="525.67" y="197.67" width="1" height="43.89" fill="#ef5350"/>
<rect x="524.67" y="202.84" width="3" height="7.74" fill="#ef5350"/>
<rect x="529.70" y="195.95" width="1" height="26.68" fill="#26a69a"/>
<rect x="528.70" y="200.26" width="3" height="10.33" fill="#26a69a"/>
<rect x="533.73" y="165.84" width="1" height="40.44" fill="#26a69a"/>
<rect x="532.73" y="176.16" width="3" height="24.09" fill="#26a69a"/>
<rect x="537.75" y="155.68" width="1" height="23.92" fill="#26a69a"/>
<rect x="536.75" y="158.09" width="3" height="18.07" fill="#26a69a"/>
<rect x="541.78" y="157.23" width="1" height="43.03" fill="#ef5350"/>
<rect x="540.78" y="158.09" width="3" height="37.86" fill="#ef5350"/>
<rect x="545.80" y="177.02" width="1" height="22.37" fill="#26a69a"/>
<rect x="544.80" y="191.65" width="3" height="4.30" fill="#26a69a"/>
<rect x="549.83" y="178.74" width="1" height="23.23" fill="#26a69a"/>
<rect x="548.83" y="181.33" width="3" height="10.33" fill="#26a69a"/>
<rect x="553.85" y="169.28" width="1" height="14.63" fill="#26a69a"/>
<rect x="552.85" y="177.88" width="3" height="3.44" fill="#26a69a"/>
<rect x="557.88" y="166.70" width="1" height="27.54" fill="#ef5350"/>
<rect x="556.88" y="177.88" width="3" height="4.30" fill="#ef5350"/>
<rect x="561.90" y="178.74" width="1" height="21.51" fill="#ef5350"/>
<rect x="560.90" y="182.19" width="3" height="9.47" fill="#ef5350"/>
<rect x="565.93" y="182.19" width="1" height="30.98" fill="#ef5350"/>
<rect x="564.93" y="191.65" width="3" height="18.93" fill="#ef5350"/>
<rect x="569.95" y="204.56" width="1" height="23.23" fill="#ef5350"/>
<rect x="568.95" y="210.58" width="3" height="13.77" fill="#ef5350"/>
<rect x="573.98" y="216.61" width="1" height="15.49" fill="#26a69a"/>
<rect x="572.98" y="219.19" width="3" height="5.16" fill="#26a69a"/>
<rect x="578.00" y="208.00" width="1" height="18.93" fill="#26a69a"/>
<rect x="577.00" y="209.72" width="3" height="9.47" fill="#26a69a"/>
<rect x="582.03" y="207.14" width="1" height="20.65" fill="#26a69a"/>
<rect x="581.03" y="208.00" width="3" height="1.72" fill="#26a69a"/>
<rect x="586.05" y="200.26" width="1" height="15.49" fill="#ef5350"/>
<rect x="585.05" y="208.00" width="3" height="4.30" fill="#ef5350"/>
<rect x="590.08" y="207.14" width="1" height="15.49" fill="#ef5350"/>
<rect x="589.08" y="212.30" width="3" height="6.02" fill="#ef5350"/>
<rect x="594.10" y="208.00" width="1" height="47.33" fill="#ef5350"/>
<rect x="593.10" y="218.33" width="3" height="27.54" fill="#ef5350"/>
<rect x="598.12" y="213.16" width="1" height="36.14" fill="#26a69a"/>
<rect x="597.12" y="221.77" width="3" height="24.09" fill="#26a69a"/>
<rect x="602.15" y="208.00" width="1" height="16.35" fill="#26a69a"/>
<rect x="601.15" y="210.58" width="3" height="11.19" fill="#26a69a"/>
<rect x="606.18" y="202.84" width="1" height="12.91" fill="#26a69a"/>
<rect x="605.18" y="209.72" width="3" height="1.00" fill="#26a69a"/>
<rect x="610.20" y="168.42" width="1" height="44.75" fill="#26a69a"/>
<rect x="609.20" y="170.14" width="3" height="39.58" fill="#26a69a"/>
<rect x="614.23" y="169.28" width="1" height="18.07" fill="#26a69a"/>
<rect x="613.23" y="170.14" width="3" height="1.00" fill="#26a69a"/>
<rect x="618.25" y="169.28" width="1" height="19.79" fill="#ef5350"/>
<rect x="617.25" y="170.14" width="3" height="13.77" fill="#ef5350"/>
<rect x="622.28" y="183.05" width="1" height="26.68" fill="#ef5350"/>
<rect x="621.28" y="183.91" width="3" height="25.81" fill="#ef5350"/>
<rect x="626.30" y="205.42" width="1" height="30.12" fill="#26a69a"/>
<rect x="625.30" y="206.28" width="3" height="3.44" fill="#26a69a"/>
<rect x="630.33" y="205.42" width="1" height="16.35" fill="#ef5350"/>
<rect x="629.33" y="206.28" width="3" height="6.02" fill="#ef5350"/>
<rect x="634.35" y="206.28" width="1" height="14.63" fill="#26a69a"/>
<rect x="633.35" y="210.58" width="3" height="1.72" fill="#26a69a"/>
<rect x="638.38" y="182.19" width="1" height="33.73" fill="#26a69a"/>
<rect x="637.38" y="200.26" width="3" height="10.33" fill="#26a69a"/>
<rect x="642.40" y="191.65" width="1" height="37.86" fill="#ef5350"/>
<rect x="641.40" y="200.26" width="3" height="18.93" fill="#ef5350"/>
<rect x="646.43" y="210.58" width="1" height="17.21" fill="#26a69a"/>
<rect x="645.43" y="216.61" width="3" height="2.58" fill="#26a69a"/>
<rect x="650.45" y="214.02" width="1" height="11.19" fill="#ef5350"/>
<rect x="649.45" y="216.61" width="3" height="1.72" fill="#ef5350"/>
<rect x="654.48" y="202.84" width="1" height="36.14" fill="#ef5350"/>
<rect x="653.48" y="218.33" width="3" height="12.05" fill="#ef5350"/>
<rect x="658.50" y="224.35" width="1" height="27.54" fill="#ef5350"/>
<rect x="657.50" y="230.37" width="3" height="10.33" fill="#ef5350"/>
<rect x="662.53" y="229.51" width="1" height="44.75" fill="#ef5350"/>
<rect x="661.53" y="240.70" width="3" height="9.81" fill="#ef5350"/>
<rect x="666.55" y="206.28" width="1" height="55.93" fill="#26a69a"/>
<rect x="665.55" y="213.16" width="3" height="37.35" fill="#26a69a"/>
<rect x="670.58" y="204.56" width="1" height="14.63" fill="#26a69a"/>
<rect x="669.58" y="206.28" width="3" height="6.88" fill="#26a69a"/>
<rect x="674.60" y="189.07" width="1" height="19.79" fill="#26a69a"/>
<rect x="673.60" y="195.95" width="3" height="10.33" fill="#26a69a"/>
<rect x="678.62" y="187.35" width="1" height="14.63" fill="#ef5350"/>
<rect x="677.62" y="195.95" width="3" height="3.44" fill="#ef5350"/>
<rect x="682.65" y="192.51" width="1" height="11.19" fill="#26a69a"/>
<rect x="681.65" y="198.53" width="3" height="1.00" fill="#26a69a"/>
<rect x="686.68" y="193.37" width="1" height="6.88" fill="#26a69a"/>
<rect x="685.68" y="195.95" width="3" height="2.58" fill="#26a69a"/>
<rect x="690.70" y="185.63" width="1" height="11.19" fill="#26a69a"/>
<rect x="689.70" y="186.49" width="3" height="9.47" fill="#26a69a"/>
<rect x="694.73" y="183.05" width="1" height="18.07" fill="#ef5350"/>
<rect x="693.73" y="186.49" width="3" height="11.19" fill="#ef5350"/>
<rect x="698.75" y="194.23" width="1" height="19.79" fill="#ef5350"/>
<rect x="697.75" y="197.67" width="3" height="12.05" fill="#ef5350"/>
<rect x="702.78" y="175.30" width="1" height="39.58" fill="#26a69a"/>
<rect x="701.78" y="183.05" width="3" height="26.68" fill="#26a69a"/>
<rect x="706.80" y="168.42" width="1" height="17.21" fill="#26a69a"/>
<rect x="705.80" y="176.16" width="3" height="6.88" fill="#26a69a"/>
<rect x="710.83" y="174.44" width="1" height="22.37" fill="#ef5350"/>
<rect x="709.83" y="176.16" width="3" height="13.77" fill="#ef5350"/>
<rect x="714.85" y="186.49" width="1" height="5.16" fill="#26a69a"/>
<rect x="713.85" y="188.21" width="3" height="1.72" fill="#26a69a"/>
<rect x="718.88" y="175.30" width="1" height="16.35" fill="#26a69a"/>
<rect x="717.88" y="179.60" width="3" height="8.60" fill="#26a69a"/>
<rect x="722.90" y="175.30" width="1" height="19.79" fill="#ef5350"/>
<rect x="721.90" y="179.60" width="3" height="7.74" fill="#ef5350"/>
<rect x="726.93" y="179.60" width="1" height="15.49" fill="#26a69a"/>
<rect x="725.93" y="182.19" width="3" height="5.16" fill="#26a69a"/>
<rect x="730.95" y="155.51" width="1" height="31.84" fill="#26a69a"/>
<rect x="729.95" y="162.39" width="3" height="19.79" fill="#26a69a"/>
<rect x="734.98" y="113.35" width="1" height="55.07" fill="#26a69a"/>
<rect x="733.98" y="121.09" width="3" height="41.30" fill="#26a69a"/>
<rect x="739.00" y="96.14" width="1" height="31.84" fill="#26a69a"/>
<rect x="738.00" y="108.18" width="3" height="12.91" fill="#26a69a"/>
<rect x="743.03" y="102.16" width="1" height="11.19" fill="#ef5350"/>
<rect x="742.03" y="108.18" width="3" height="1.00" fill="#ef5350"/>
<rect x="747.05" y="90.97" width="1" height="19.79" fill="#26a69a"/>
<rect x="746.05" y="94.41" width="3" height="14.63" fill="#26a69a"/>
<rect x="751.08" y="59.13" width="1" height="37.00" fill="#26a69a"/>
<rect x="750.08" y="88.39" width="3" height="6.02" fill="#26a69a"/>
<rect x="755.10" y="87.53" width="1" height="36.14" fill="#ef5350"/>
<rect x="754.10" y="88.39" width="3" height="17.21" fill="#ef5350"/>
<rect x="759.13" y="85.81" width="1" height="26.68" fill="#26a69a"/>
<rect x="758.13" y="98.72" width="3" height="6.88" fill="#26a69a"/>
<rect x="763.15" y="78.93" width="1" height="30.12" fill="#26a69a"/>
<rect x="762.15" y="93.55" width="3" height="5.16" fill="#26a69a"/>
<rect x="767.18" y="79.79" width="1" height="34.42" fill="#ef5350"/>
<rect x="766.18" y="93.55" width="3" height="11.19" fill="#ef5350"/>
<rect x="771.20" y="99.58" width="1" height="10.33" fill="#ef5350"/>
<rect x="770.20" y="104.74" width="3" height="1.00" fill="#ef5350"/>
<rect x="775.23" y="97.00" width="1" height="19.79" fill="#ef5350"/>
<rect x="774.23" y="105.60" width="3" height="5.16" fill="#ef5350"/>
<rect x="779.25" y="89.25" width="1" height="30.98" fill="#26a69a"/>
<rect x="778.25" y="109.04" width="3" height="1.72" fill="#26a69a"/>
<rect x="783.28" y="84.95" width="1" height="35.28" fill="#26a69a"/>
<rect x="782.28" y="87.53" width="3" height="21.51" fill="#26a69a"/>
<rect x="787.30" y="85.81" width="1" height="24.09" fill="#ef5350"/>
<rect x="786.30" y="87.53" width="3" height="10.33" fill="#ef5350"/>
<rect x="791.33" y="90.97" width="1" height="20.65" fill="#ef5350"/>
<rect x="790.33" y="97.86" width="3" height="3.44" fill="#ef5350"/>
<rect x="795.35" y="100.44" width="1" height="31.84" fill="#ef5350"/>
<rect x="794.35" y="101.30" width="3" height="6.02" fill="#ef5350"/>
<rect x="799.38" y="101.30" width="1" height="10.33" fill="#26a69a"/>
<rect x="798.38" y="104.74" width="3" height="2.58" fill="#26a69a"/>
<rect x="803.40" y="88.39" width="1" height="17.21" fill="#26a69a"/>
<rect x="802.40" y="91.83" width="3" height="12.91" fill="#26a69a"/>
<rect x="807.43" y="88.39" width="1" height="20.65" fill="#ef5350"/>
<rect x="806.43" y="91.83" width="3" height="12.05" fill="#ef5350"/>
<rect x="811.45" y="92.69" width="1" height="20.65" fill="#ef5350"/>
<rect x="810.45" y="103.88" width="3" height="1.00" fill="#ef5350"/>
<rect x="815.48" y="97.00" width="1" height="26.68" fill="#ef5350"/>
<rect x="814.48" y="104.74" width="3" height="1.00" fill="#ef5350"/>
<rect x="819.50" y="96.14" width="1" height="29.26" fill="#ef5350"/>
<rect x="818.50" y="105.60" width="3" height="18.07" fill="#ef5350"/>
<rect x="823.53" y="121.09" width="1" height="28.40" fill="#ef5350"/>
<rect x="822.53" y="123.67" width="3" height="20.65" fill="#ef5350"/>
<rect x="827.55" y="138.30" width="1" height="17.21" fill="#ef5350"/>
<rect x="826.55" y="144.32" width="3" height="6.88" fill="#ef5350"/>
<rect x="831.58" y="131.42" width="1" height="24.95" fill="#26a69a"/>
<rect x="830.58" y="136.58" width="3" height="14.63" fill="#26a69a"/>
<rect x="835.60" y="123.67" width="1" height="13.77" fill="#26a69a"/>
<rect x="834.60" y="129.69" width="3" height="6.88" fill="#26a69a"/>
<rect x="839.63" y="128.83" width="1" height="21.51" fill="#ef5350"/>
<rect x="838.63" y="129.69" width="3" height="7.74" fill="#ef5350"/>
<rect x="843.65" y="123.67" width="1" height="20.65" fill="#26a69a"/>
<rect x="842.65" y="129.69" width="3" height="7.74" fill="#26a69a"/>
<rect x="847.68" y="107.32" width="1" height="28.40" fill="#26a69a"/>
<rect x="846.68" y="108.18" width="3" height="21.51" fill="#26a69a"/>
<rect x="851.70" y="106.46" width="1" height="15.49" fill="#ef5350"/>
<rect x="850.70" y="108.18" width="3" height="6.88" fill="#ef5350"/>
<rect x="855.73" y="104.74" width="1" height="13.77" fill="#ef5350"/>
<rect x="854.73" y="115.07" width="3" height="1.72" fill="#ef5350"/>
<rect x="859.75" y="92.69" width="1" height="24.09" fill="#26a69a"/>
<rect x="858.75" y="92.69" width="3" height="24.09" fill="#26a69a"/>
<rect x="863.78" y="66.88" width="1" height="36.14" fill="#ef5350"/>
<rect x="862.78" y="92.69" width="3" height="5.16" fill="#ef5350"/>
<rect x="867.80" y="84.09" width="1" height="18.07" fill="#26a69a"/>
<rect x="866.80" y="85.81" width="3" height="12.05" fill="#26a69a"/>
<rect x="871.83" y="54.83" width="1" height="41.30" fill="#26a69a"/>
<rect x="870.83" y="58.27" width="3" height="27.54" fill="#26a69a"/>
<rect x="875.85" y="47.95" width="1" height="62.82" fill="#ef5350"/>
<rect x="874.85" y="58.27" width="3" height="43.02" fill="#ef5350"/>
<rect x="879.88" y="93.55" width="1" height="20.65" fill="#ef5350"/>
<rect x="878.88" y="101.30" width="3" height="8.61" fill="#ef5350"/>
<rect x="883.90" y="104.74" width="1" height="6.88" fill="#26a69a"/>
<rect x="882.90" y="109.04" width="3" height="1.00" fill="#26a69a"/>
<rect x="887.93" y="98.72" width="1" height="12.05" fill="#26a69a"/>
<rect x="886.93" y="109.04" width="3" height="1.00" fill="#26a69a"/>
<rect x="891.95" y="107.32" width="1" height="25.81" fill="#ef5350"/>
<rect x="890.95" y="109.04" width="3" height="10.33" fill="#ef5350"/>
<rect x="895.98" y="115.07" width="1" height="34.42" fill="#ef5350"/>
<rect x="894.98" y="119.37" width="3" height="28.40" fill="#ef5350"/>
<rect x="900.00" y="133.14" width="1" height="18.93" fill="#26a69a"/>
<rect x="899.00" y="135.72" width="3" height="12.05" fill="#26a69a"/>
<rect x="904.03" y="131.42" width="1" height="24.09" fill="#ef5350"/>
<rect x="903.03" y="135.72" width="3" height="15.49" fill="#ef5350"/>
<rect x="908.05" y="109.04" width="1" height="49.05" fill="#26a69a"/>
<rect x="907.05" y="113.35" width="3" height="37.86" fill="#26a69a"/>
<rect x="912.08" y="112.48" width="1" height="21.51" fill="#ef5350"/>
<rect x="911.08" y="113.35" width="3" height="12.91" fill="#ef5350"/>
<rect x="916.10" y="124.53" width="1" height="42.16" fill="#ef5350"/>
<rect x="915.10" y="126.25" width="3" height="16.35" fill="#ef5350"/>
<rect x="920.13" y="141.74" width="1" height="37.00" fill="#ef5350"/>
<rect x="919.13" y="142.60" width="3" height="29.26" fill="#ef5350"/>
<rect x="924.15" y="152.07" width="1" height="31.84" fill="#26a69a"/>
<rect x="923.15" y="157.23" width="3" height="14.63" fill="#26a69a"/>
<rect x="928.18" y="150.35" width="1" height="18.93" fill="#ef5350"/>
<rect x="927.18" y="157.23" width="3" height="4.30" fill="#ef5350"/>
<rect x="932.20" y="142.60" width="1" height="22.37" fill="#26a69a"/>
<rect x="931.20" y="150.35" width="3" height="11.19" fill="#26a69a"/>
<rect x="936.23" y="150.35" width="1" height="43.89" fill="#ef5350"/>
<rect x="935.23" y="150.35" width="3" height="36.14" fill="#ef5350"/>
<rect x="940.25" y="182.19" width="1" height="12.91" fill="#26a69a"/>
<rect x="939.25" y="183.05" width="3" height="3.44" fill="#26a69a"/>
<rect x="944.28" y="177.02" width="1" height="12.05" fill="#ef5350"/>
<rect x="943.28" y="183.05" width="3" height="5.16" fill="#ef5350"/>
<rect x="948.30" y="173.58" width="1" height="22.37" fill="#26a69a"/>
<rect x="947.30" y="179.60" width="3" height="8.60" fill="#26a69a"/>
<rect x="952.33" y="157.23" width="1" height="29.26" fill="#26a69a"/>
<rect x="951.33" y="162.39" width="3" height="17.21" fill="#26a69a"/>
<rect x="956.35" y="150.35" width="1" height="18.07" fill="#26a69a"/>
<rect x="955.35" y="158.09" width="3" height="4.30" fill="#26a69a"/>
<rect x="960.38" y="153.79" width="1" height="24.95" fill="#ef5350"/>
<rect x="959.38" y="158.09" width="3" height="8.60" fill="#ef5350"/>
<rect x="964.40" y="143.46" width="1" height="27.54" fill="#ef5350"/>
<rect x="963.40" y="166.70" width="3" height="1.00" fill="#ef5350"/>
<rect x="968.43" y="161.53" width="1" height="11.36" fill="#ef5350"/>
<rect x="967.43" y="167.13" width="3" height="3.87" fill="#ef5350"/>
<rect x="972.45" y="158.95" width="1" height="12.05" fill="#26a69a"/>
<rect x="971.45" y="163.25" width="3" height="7.74" fill="#26a69a"/>
<rect x="976.48" y="147.77" width="1" height="19.79" fill="#26a69a"/>
<rect x="975.48" y="154.65" width="3" height="8.61" fill="#26a69a"/>
<rect x="980.50" y="144.32" width="1" height="21.51" fill="#ef5350"/>
<rect x="979.50" y="154.65" width="3" height="5.16" fill="#ef5350"/>
<rect x="984.53" y="135.72" width="1" height="29.26" fill="#26a69a"/>
<rect x="983.53" y="138.64" width="3" height="21.17" fill="#26a69a"/>
<rect x="988.55" y="125.39" width="1" height="18.07" fill="#26a69a"/>
<rect x="987.55" y="125.39" width="3" height="13.25" fill="#26a69a"/>
<rect x="992.58" y="115.07" width="1" height="17.21" fill="#26a69a"/>
<rect x="991.58" y="121.09" width="3" height="4.30" fill="#26a69a"/>
<rect x="996.60" y="118.51" width="1" height="10.33" fill="#ef5350"/>
<rect x="995.60" y="121.09" width="3" height="1.00" fill="#ef5350"/>
<rect x="1000.63" y="119.37" width="1" height="9.47" fill="#ef5350"/>
<rect x="999.63" y="121.52" width="3" height="5.59" fill="#ef5350"/>
<rect x="1004.65" y="114.21" width="1" height="20.65" fill="#26a69a"/>
<rect x="1003.65" y="126.68" width="3" height="1.00" fill="#26a69a"/>
<rect x="1008.68" y="112.48" width="1" height="19.79" fill="#26a69a"/>
<rect x="1007.68" y="114.21" width="3" height="12.48" fill="#26a69a"/>
<rect x="1012.70" y="109.90" width="1" height="22.37" fill="#ef5350"/>
<rect x="1011.70" y="114.21" width="3" height="2.58" fill="#ef5350"/>
<rect x="1016.73" y="104.74" width="1" height="15.49" fill="#26a69a"/>
<rect x="1015.73" y="111.62" width="3" height="5.16" fill="#26a69a"/>
<rect x="1020.75" y="108.18" width="1" height="20.65" fill="#ef5350"/>
<rect x="1019.75" y="111.62" width="3" height="12.91" fill="#ef5350"/>
<rect x="1024.78" y="120.23" width="1" height="6.02" fill="#26a69a"/>
<rect x="1023.78" y="123.67" width="3" height="1.00" fill="#26a69a"/>
<rect x="1028.80" y="122.81" width="1" height="6.88" fill="#ef5350"/>
<rect x="1027.80" y="123.67" width="3" height="4.30" fill="#ef5350"/>
<rect x="1032.83" y="126.25" width="1" height="30.98" fill="#ef5350"/>
<rect x="1031.83" y="127.97" width="3" height="21.94" fill="#ef5350"/>
<rect x="1036.85" y="144.32" width="1" height="15.49" fill="#ef5350"/>
<rect x="1035.85" y="149.92" width="3" height="5.59" fill="#ef5350"/>
<rect x="1040.88" y="138.30" width="1" height="25.81" fill="#26a69a"/>
<rect x="1039.88" y="144.32" width="3" height="11.19" fill="#26a69a"/>
<rect x="1044.90" y="142.60" width="1" height="42.16" fill="#ef5350"/>
<rect x="1043.90" y="144.32" width="3" height="37.00" fill="#ef5350"/>
<rect x="1048.93" y="170.14" width="1" height="14.63" fill="#26a69a"/>
<rect x="1047.93" y="176.16" width="3" height="5.16" fill="#26a69a"/>
<rect x="1052.95" y="174.44" width="1" height="6.02" fill="#ef5350"/>
<rect x="1051.95" y="175.99" width="3" height="1.00" fill="#ef5350"/>
<rect x="1056.98" y="152.07" width="1" height="27.54" fill="#26a69a"/>
<rect x="1055.98" y="154.13" width="3" height="22.03" fill="#26a69a"/>
<rect x="1061.00" y="136.32" width="1" height="22.98" fill="#26a69a"/>
<rect x="1060.00" y="139.20" width="3" height="14.93" fill="#26a69a"/></g><g clip-path="url(#cr)"><path d="M6.95,533.60 L6.95,533.60 L10.97,533.60 L15.00,533.60 L19.02,533.60 L23.05,533.60 L27.07,533.60 L31.10,533.60 L35.12,533.60 L39.15,533.60 L43.17,533.60 L47.20,533.60 L51.22,533.60 L55.25,533.60 L59.27,533.60 L63.30,533.60 L67.32,533.60 L71.35,533.60 L75.38,533.60 L79.40,533.60 L83.42,533.60 L87.45,533.60 L91.47,533.60 L95.50,533.60 L99.53,533.60 L103.55,533.60 L107.58,533.60 L111.60,533.60 L115.62,533.60 L119.65,533.60 L123.68,533.60 L127.70,533.60 L131.72,533.60 L135.75,533.60 L139.78,533.60 L143.80,533.60 L147.82,533.60 L151.85,533.60 L155.88,533.60 L159.90,533.60 L163.93,533.60 L167.95,533.60 L171.98,533.60 L176.00,533.60 L180.03,533.60 L184.05,533.60 L188.07,533.60 L192.10,533.60 L196.12,533.60 L200.15,533.60 L204.18,533.60 L208.20,533.60 L212.23,533.60 L216.25,533.60 L220.28,533.60 L224.30,533.60 L228.33,533.60 L232.35,533.60 L236.38,533.60 L240.40,533.60 L244.43,533.60 L248.45,533.60 L252.48,533.60 L256.50,533.60 L260.52,533.60 L264.55,533.60 L268.58,533.60 L272.60,533.60 L276.62,533.60 L280.65,533.60 L284.68,533.60 L288.70,533.60 L292.73,533.60 L296.75,533.60 L300.77,533.60 L304.80,533.60 L308.83,533.60 L312.85,533.60 L316.88,533.60 L320.90,533.60 L324.93,533.60 L328.95,533.60 L332.98,533.60 L337.00,533.60 L341.03,533.60 L345.05,533.60 L349.08,533.60 L353.10,533.60 L357.12,533.60 L361.15,533.60 L365.18,533.60 L369.20,533.60 L373.23,533.60 L377.25,533.60 L381.28,533.60 L385.30,533.60 L389.33,533.60 L393.35,533.60 L397.38,533.60 L401.40,533.60 L405.43,533.60 L409.45,533.60 L413.48,533.60 L417.50,533.60 L421.53,533.60 L425.55,533.60 L429.58,533.60 L433.60,533.60 L437.63,533.60 L441.65,533.60 L445.68,533.60 L449.70,533.60 L453.73,533.60 L457.75,532.99 L461.78,533.60 L465.80,533.60 L469.83,533.60 L473.85,533.60 L477.88,533.60 L481.90,517.99 L485.93,520.90 L489.95,515.18 L493.98,522.23 L498.00,533.60 L502.03,529.70 L506.05,533.60 L510.08,533.60 L514.10,533.60 L518.12,533.60 L522.15,525.83 L526.17,533.60 L530.20,530.03 L534.23,519.10 L538.25,512.33 L542.28,533.60 L546.30,533.60 L550.33,533.60 L554.35,533.60 L558.38,533.60 L562.40,533.60 L566.43,533.60 L570.45,533.60 L574.48,533.60 L578.50,533.60 L582.53,533.60 L586.55,533.60 L590.58,533.60 L594.60,533.60 L598.62,533.60 L602.65,533.60 L606.68,533.60 L610.70,533.60 L614.73,533.60 L618.75,533.60 L622.78,533.60 L626.80,533.60 L630.83,533.60 L634.85,533.60 L638.88,533.60 L642.90,533.60 L646.93,533.60 L650.95,533.60 L654.98,533.60 L659.00,533.60 L663.03,533.60 L667.05,533.60 L671.08,533.60 L675.10,533.60 L679.12,533.60 L683.15,533.60 L687.18,533.60 L691.20,533.60 L695.23,533.60 L699.25,533.60 L703.28,533.60 L707.30,533.60 L711.33,533.60 L715.35,533.60 L719.38,533.60 L723.40,533.60 L727.43,533.60 L731.45,533.60 L735.48,531.00 L739.50,525.45 L743.53,526.44 L747.55,520.20 L751.58,517.76 L755.60,533.60 L759.63,533.60 L763.65,532.08 L767.68,533.60 L771.70,533.60 L775.73,533.60 L779.75,533.60 L783.78,533.60 L787.80,533.60 L791.83,533.60 L795.85,533.60 L799.88,533.60 L803.90,533.60 L807.93,533.60 L811.95,533.60 L815.98,533.60 L820.00,533.60 L824.03,533.60 L828.05,533.60 L832.08,533.60 L836.10,533.60 L840.13,533.60 L844.15,533.60 L848.18,533.60 L852.20,533.60 L856.23,533.60 L860.25,533.60 L864.28,533.60 L868.30,533.60 L872.33,533.60 L876.35,533.60 L880.38,533.60 L884.40,533.60 L888.43,533.60 L892.45,533.60 L896.48,533.60 L900.50,533.60 L904.53,533.60 L908.55,533.60 L912.58,533.60 L916.60,533.60 L920.63,533.60 L924.65,533.60 L928.68,533.60 L932.70,533.60 L936.73,533.60 L940.75,533.60 L944.78,533.60 L948.80,533.60 L952.83,533.60 L956.85,533.60 L960.88,533.60 L964.90,533.60 L968.93,533.60 L972.95,533.60 L976.98,533.60 L981.00,533.60 L985.03,533.60 L989.05,533.60 L993.08,533.60 L997.10,533.60 L1001.13,533.60 L1005.15,533.60 L1009.18,533.60 L1013.20,533.60 L1017.23,533.60 L1021.25,533.60 L1025.28,533.60 L1029.30,533.60 L1033.33,533.60 L1037.35,533.60 L1041.38,533.60 L1045.40,533.60 L1049.43,533.60 L1053.45,533.60 L1057.48,533.60 L1061.50,533.60 L1061.50,533.60 Z" fill="#4caf50" fill-opacity="0.10"/><path d="M6.95,640.00 L6.95,640.00 L10.97,640.00 L15.00,640.00 L19.02,640.00 L23.05,640.00 L27.07,640.00 L31.10,640.00 L35.12,640.00 L39.15,640.00 L43.17,640.00 L47.20,640.00 L51.22,640.00 L55.25,640.00 L59.27,640.00 L63.30,640.00 L67.32,640.00 L71.35,640.00 L75.38,640.00 L79.40,640.00 L83.42,640.00 L87.45,640.00 L91.47,640.00 L95.50,640.00 L99.53,640.00 L103.55,640.00 L107.58,640.00 L111.60,640.00 L115.62,640.00 L119.65,640.00 L123.68,640.00 L127.70,640.00 L131.72,640.00 L135.75,640.00 L139.78,640.00 L143.80,640.00 L147.82,640.00 L151.85,640.00 L155.88,640.00 L159.90,640.00 L163.93,640.00 L167.95,640.00 L171.98,640.00 L176.00,640.00 L180.03,640.00 L184.05,640.00 L188.07,640.00 L192.10,640.98 L196.12,656.00 L200.15,649.88 L204.18,651.16 L208.20,640.00 L212.23,640.00 L216.25,640.00 L220.28,640.00 L224.30,640.00 L228.33,640.00 L232.35,640.00 L236.38,640.00 L240.40,640.00 L244.43,640.00 L248.45,640.00 L252.48,640.00 L256.50,640.00 L260.52,640.00 L264.55,640.00 L268.58,640.00 L272.60,640.00 L276.62,640.00 L280.65,640.00 L284.68,640.00 L288.70,640.00 L292.73,640.00 L296.75,640.00 L300.77,640.00 L304.80,640.00 L308.83,640.00 L312.85,640.00 L316.88,640.00 L320.90,640.00 L324.93,640.00 L328.95,640.00 L332.98,640.00 L337.00,640.00 L341.03,640.00 L345.05,640.00 L349.08,640.00 L353.10,640.00 L357.12,640.00 L361.15,640.00 L365.18,640.00 L369.20,640.00 L373.23,640.00 L377.25,640.00 L381.28,640.00 L385.30,640.00 L389.33,640.00 L393.35,640.00 L397.38,640.00 L401.40,640.00 L405.43,640.00 L409.45,640.00 L413.48,640.00 L417.50,640.00 L421.53,640.00 L425.55,640.00 L429.58,640.00 L433.60,640.00 L437.63,640.00 L441.65,640.00 L445.68,640.00 L449.70,640.00 L453.73,640.00 L457.75,640.00 L461.78,640.00 L465.80,640.00 L469.83,640.00 L473.85,640.00 L477.88,640.00 L481.90,640.00 L485.93,640.00 L489.95,640.00 L493.98,640.00 L498.00,640.00 L502.03,640.00 L506.05,640.00 L510.08,640.00 L514.10,640.00 L518.12,640.00 L522.15,640.00 L526.17,640.00 L530.20,640.00 L534.23,640.00 L538.25,640.00 L542.28,640.00 L546.30,640.00 L550.33,640.00 L554.35,640.00 L558.38,640.00 L562.40,640.00 L566.43,640.00 L570.45,640.00 L574.48,640.00 L578.50,640.00 L582.53,640.00 L586.55,640.00 L590.58,640.00 L594.60,640.00 L598.62,640.00 L602.65,640.00 L606.68,640.00 L610.70,640.00 L614.73,640.00 L618.75,640.00 L622.78,640.00 L626.80,640.00 L630.83,640.00 L634.85,640.00 L638.88,640.00 L642.90,640.00 L646.93,640.00 L650.95,640.00 L654.98,640.00 L659.00,640.00 L663.03,640.00 L667.05,640.00 L671.08,640.00 L675.10,640.00 L679.12,640.00 L683.15,640.00 L687.18,640.00 L691.20,640.00 L695.23,640.00 L699.25,640.00 L703.28,640.00 L707.30,640.00 L711.33,640.00 L715.35,640.00 L719.38,640.00 L723.40,640.00 L727.43,640.00 L731.45,640.00 L735.48,640.00 L739.50,640.00 L743.53,640.00 L747.55,640.00 L751.58,640.00 L755.60,640.00 L759.63,640.00 L763.65,640.00 L767.68,640.00 L771.70,640.00 L775.73,640.00 L779.75,640.00 L783.78,640.00 L787.80,640.00 L791.83,640.00 L795.85,640.00 L799.88,640.00 L803.90,640.00 L807.93,640.00 L811.95,640.00 L815.98,640.00 L820.00,640.00 L824.03,640.00 L828.05,640.00 L832.08,640.00 L836.10,640.00 L840.13,640.00 L844.15,640.00 L848.18,640.00 L852.20,640.00 L856.23,640.00 L860.25,640.00 L864.28,640.00 L868.30,640.00 L872.33,640.00 L876.35,640.00 L880.38,640.00 L884.40,640.00 L888.43,640.00 L892.45,640.00 L896.48,640.00 L900.50,640.00 L904.53,640.00 L908.55,640.00 L912.58,640.00 L916.60,640.00 L920.63,640.00 L924.65,640.00 L928.68,640.00 L932.70,640.00 L936.73,640.00 L940.75,640.00 L944.78,640.00 L948.80,640.00 L952.83,640.00 L956.85,640.00 L960.88,640.00 L964.90,640.00 L968.93,640.00 L972.95,640.00 L976.98,640.00 L981.00,640.00 L985.03,640.00 L989.05,640.00 L993.08,640.00 L997.10,640.00 L1001.13,640.00 L1005.15,640.00 L1009.18,640.00 L1013.20,640.00 L1017.23,640.00 L1021.25,640.00 L1025.28,640.00 L1029.30,640.00 L1033.33,640.00 L1037.35,640.00 L1041.38,640.00 L1045.40,640.00 L1049.43,640.00 L1053.45,640.00 L1057.48,640.00 L1061.50,640.00 L1061.50,640.00 Z" fill="#f23645" fill-opacity="0.07"/><polyline points="6.95,590.34 10.97,590.31 15.00,589.76 19.02,588.92 23.05,587.50 27.07,585.08 31.10,583.91 35.12,581.99 39.15,579.98 43.17,579.54 47.20,580.27 51.22,577.44 55.25,575.01 59.27,571.70 63.30,569.01 67.32,566.33 71.35,564.64 75.38,563.21 79.40,563.07 83.42,563.43 87.45,563.17 91.47,565.33 95.50,568.37 99.53,571.05 103.55,572.52 107.58,576.35 111.60,579.48 115.62,582.72 119.65,586.23 123.68,589.73 127.70,592.15 131.72,593.79 135.75,595.82 139.78,597.70 143.80,600.48 147.82,601.63 151.85,601.99 155.88,601.90 159.90,603.52 163.93,603.95 167.95,603.33 171.98,601.63 176.00,601.13 180.03,600.35 184.05,599.78 188.07,601.79 192.10,603.97 196.12,608.36 200.15,611.78 204.18,615.78 208.20,618.69 212.23,617.20 216.25,617.76 220.28,617.94 224.30,617.67 228.33,618.65 232.35,619.26 236.38,620.25 240.40,622.31 244.43,622.70 248.45,620.66 252.48,617.28 256.50,614.94 260.52,611.54 264.55,609.13 268.58,610.89 272.60,609.91 276.62,609.64 280.65,609.09 284.68,609.11 288.70,608.32 292.73,607.49 296.75,604.60 300.77,600.83 304.80,598.63 308.83,596.89 312.85,594.43 316.88,594.06 320.90,594.43 324.93,594.42 328.95,594.83 332.98,593.59 337.00,594.81 341.03,594.93 345.05,594.69 349.08,594.54 353.10,597.06 357.12,599.64 361.15,603.05 365.18,603.54 369.20,605.08 373.23,604.20 377.25,602.11 381.28,600.45 385.30,598.60 389.33,598.40 393.35,596.99 397.38,595.58 401.40,594.67 405.43,593.35 409.45,590.15 413.48,586.44 417.50,580.09 421.53,576.38 425.55,571.70 429.58,568.10 433.60,565.13 437.63,562.18 441.65,559.10 445.68,556.14 449.70,553.40 453.73,550.19 457.75,546.68 461.78,544.16 465.80,542.80 469.83,542.19 473.85,542.49 477.88,542.79 481.90,541.32 485.93,540.26 489.95,538.74 493.98,537.20 498.00,536.96 502.03,535.87 506.05,535.14 510.08,535.10 514.10,535.43 518.12,535.32 522.15,532.95 526.17,531.43 530.20,530.39 534.23,528.64 538.25,528.23 542.28,530.43 546.30,532.88 550.33,534.45 554.35,534.98 558.38,536.21 562.40,537.72 566.43,540.61 570.45,544.08 574.48,546.94 578.50,550.43 582.53,553.13 586.55,556.53 590.58,561.14 594.60,567.90 598.62,570.32 602.65,572.29 606.68,574.59 610.70,575.18 614.73,575.45 618.75,575.95 622.78,576.70 626.80,576.44 630.83,576.82 634.85,577.63 638.88,577.92 642.90,579.06 646.93,579.60 650.95,578.58 654.98,579.81 659.00,582.23 663.03,585.20 667.05,587.53 671.08,589.48 675.10,589.94 679.12,589.11 683.15,588.42 687.18,587.23 691.20,585.58 695.23,585.42 699.25,584.98 703.28,583.11 707.30,580.79 711.33,578.73 715.35,576.00 719.38,572.26 723.40,571.61 727.43,571.00 731.45,569.84 735.48,566.80 739.50,563.41 743.53,560.25 747.55,557.21 751.58,553.10 755.60,549.60 759.63,547.43 763.65,545.42 767.68,543.38 771.70,541.50 775.73,540.58 779.75,538.97 783.78,536.65 787.80,536.36 791.83,538.01 795.85,540.60 799.88,542.96 803.90,545.02 807.93,548.35 811.95,550.29 815.98,552.57 820.00,556.60 824.03,561.07 828.05,565.87 832.08,569.04 836.10,571.78 840.13,576.09 844.15,578.87 848.18,579.92 852.20,580.97 856.23,582.30 860.25,582.93 864.28,582.89 868.30,582.11 872.33,580.02 876.35,579.28 880.38,577.60 884.40,575.47 888.43,574.53 892.45,574.73 896.48,575.84 900.50,576.77 904.53,579.86 908.55,580.33 912.58,581.30 916.60,584.44 920.63,588.28 924.65,592.00 928.68,597.10 932.70,598.70 936.73,601.20 940.75,603.56 944.78,606.10 948.80,607.51 952.83,606.49 956.85,606.01 960.88,605.23 964.90,606.55 968.93,607.44 972.95,607.09 976.98,605.06 981.00,604.13 985.03,601.73 989.05,599.23 993.08,595.14 997.10,591.27 1001.13,587.67 1005.15,584.55 1009.18,581.65 1013.20,579.21 1017.23,576.04 1021.25,574.03 1025.28,571.75 1029.30,570.40 1033.33,571.33 1037.35,572.32 1041.38,573.66 1045.40,577.84 1049.43,581.83 1053.45,585.78 1057.48,587.56 1061.50,588.41" fill="none" stroke="#fdd835" stroke-width="1.3" stroke-linejoin="round" stroke-linecap="round" /><polyline points="6.95,596.00 10.97,596.63 15.00,597.16 19.02,597.38 23.05,583.95 27.07,563.26 31.10,566.65 35.12,548.78 39.15,547.61 43.17,568.34 47.20,564.18 51.22,548.20 55.25,563.22 59.27,562.37 63.30,558.42 67.32,559.12 71.35,573.47 75.38,577.38 79.40,582.01 83.42,568.27 87.45,563.02 91.47,579.02 95.50,590.17 99.53,605.83 103.55,584.69 107.58,601.86 111.60,607.15 115.62,607.60 119.65,607.60 123.68,608.12 127.70,607.35 131.72,600.31 135.75,610.50 139.78,594.54 143.80,601.93 147.82,595.19 151.85,595.19 155.88,604.64 159.90,607.27 163.93,607.95 167.95,598.45 171.98,583.78 176.00,600.62 180.03,597.15 184.05,599.45 188.07,628.39 192.10,640.98 196.12,656.00 200.15,649.88 204.18,651.16 208.20,635.91 212.23,583.76 216.25,615.22 220.28,610.35 224.30,594.77 228.33,597.47 232.35,609.22 236.38,610.98 240.40,628.24 244.43,633.85 248.45,612.43 252.48,608.74 256.50,617.10 260.52,603.55 264.55,602.18 268.58,608.41 272.60,601.47 276.62,606.55 280.65,587.12 284.68,597.73 288.70,598.13 292.73,599.41 296.75,587.74 300.77,581.06 304.80,581.59 308.83,584.38 312.85,582.70 316.88,598.40 320.90,607.32 324.93,608.30 328.95,607.22 332.98,589.21 337.00,604.11 341.03,599.47 345.05,594.79 349.08,597.21 353.10,623.01 357.12,617.20 361.15,629.33 365.18,591.31 369.20,604.15 373.23,586.11 377.25,578.08 381.28,585.03 385.30,581.43 389.33,586.36 393.35,584.36 397.38,579.75 401.40,582.08 405.43,578.72 409.45,578.14 413.48,565.25 417.50,540.44 421.53,539.40 425.55,538.66 429.58,535.64 433.60,536.52 437.63,543.76 441.65,538.36 445.68,544.95 449.70,545.92 453.73,534.78 457.75,532.99 461.78,543.50 465.80,559.08 469.83,556.63 473.85,544.69 477.88,543.62 481.90,517.99 485.93,520.90 489.95,515.18 493.98,522.23 498.00,534.97 502.03,529.70 506.05,535.65 510.08,534.29 514.10,537.54 518.12,542.02 522.15,525.83 526.17,535.47 530.20,530.03 534.23,519.10 538.25,512.33 542.28,551.69 546.30,549.47 550.33,544.17 554.35,542.41 558.38,546.95 562.40,556.82 566.43,574.68 570.45,586.15 574.48,582.06 578.50,574.68 582.53,573.33 586.55,577.60 590.58,583.58 594.60,606.95 598.62,585.64 602.65,577.06 606.68,576.40 610.70,550.67 614.73,550.67 618.75,563.87 622.78,585.10 626.80,582.58 630.83,587.37 634.85,585.95 638.88,577.47 642.90,593.48 646.93,591.21 650.95,592.69 654.98,602.86 659.00,610.90 663.03,618.05 667.05,583.19 671.08,577.96 675.10,570.35 679.12,573.57 683.15,572.88 687.18,570.70 691.20,562.83 695.23,575.22 699.25,587.34 703.28,565.09 707.30,560.16 711.33,574.06 715.35,572.66 719.38,565.69 723.40,573.98 727.43,569.51 731.45,554.10 735.48,531.00 739.50,525.45 743.53,526.44 747.55,520.20 751.58,517.76 755.60,538.27 759.63,534.73 763.65,532.08 767.68,545.41 771.70,546.43 775.73,552.73 779.75,551.46 783.78,537.01 787.80,550.00 791.83,554.22 795.85,561.63 799.88,559.45 803.90,549.07 807.93,564.41 811.95,565.48 815.98,566.61 820.00,588.43 824.03,608.02 828.05,613.70 832.08,597.04 836.10,589.86 840.13,597.30 844.15,588.96 848.18,568.95 852.20,576.28 856.23,578.13 860.25,557.88 864.28,563.75 868.30,554.58 872.33,537.41 876.35,578.04 880.38,584.53 884.40,583.89 888.43,583.89 892.45,592.58 896.48,612.83 900.50,602.05 904.53,612.15 908.55,582.97 912.58,591.64 916.60,601.84 920.63,617.52 924.65,606.58 928.68,608.93 932.70,600.42 936.73,619.55 940.75,616.87 944.78,619.49 948.80,612.25 952.83,598.62 956.85,595.35 960.88,601.13 964.90,601.43 968.93,604.22 972.95,596.94 976.98,589.10 981.00,593.57 985.03,575.24 989.05,565.38 993.08,562.30 997.10,562.77 1001.13,569.02 1005.15,568.64 1009.18,557.94 1013.20,561.23 1017.23,556.72 1021.25,573.28 1025.28,572.42 1029.30,577.95 1033.33,602.18 1037.35,607.44 1041.38,593.93 1045.40,623.96 1049.43,618.07 1053.45,618.07 1057.48,594.05 1061.50,580.52" fill="none" stroke="#7e57c2" stroke-width="2.6" stroke-linejoin="round" stroke-linecap="round" /></g><rect x="6" y="503" width="1214" height="1" fill="#e2e3e8"/><rect x="6" y="664" width="1214" height="1" fill="#e2e3e8"/><rect x="1150" y="25" width="1" height="664" fill="#e2e3e8"/><g transform="translate(1061.6,491.4)"><circle r="10.6" fill="#fff"/><circle r="8.7" fill="#fff" stroke="#9c27b0" stroke-width="1.35"/><path d="M2.2,-4.6 L-4,0.6 L-0.6,0.6 L-2.9,5 L3.6,-0.4 L0.2,-0.4 Z" fill="#9c27b0"/><circle cx="5.9" cy="-6" r="3.6" fill="#fff"/><circle cx="5.9" cy="-6" r="2.4" fill="#f23645"/></g><g transform="translate(7.8,706.1) scale(0.755,0.72)" fill="#131722"><path d="M14 22H7V11H0V4h14v18zM28 22h-8l7.5-18h8L28 22z"/><circle cx="20" cy="8" r="4"/></g></svg>
<div style="position:absolute;left:1151px;top:41.4px;width:65.3px;height:15.2px;background:#0000ff;border-radius:0 2px 2px 0;"></div><div style="position:absolute;left:1151px;top:100.7px;width:65.29999999999995px;height:15.2px;background:#0000ff;border-radius:0 2px 2px 0;"></div><div style="position:absolute;left:1151px;top:132px;width:65.3px;height:41px;background:#26a69a;border-radius:0 2px 2px 0;"></div><div style="position:absolute;left:1098.8px;top:132.0px;width:51.700000000000045px;height:15.2px;background:#26a69a;border-radius:2px 0 0 2px;"></div><div style="position:absolute;left:1151px;top:172.70000000000002px;width:65.29999999999995px;height:15.2px;background:#f23645;border-radius:0 2px 2px 0;"></div><div style="position:absolute;left:1105.1px;top:172.70000000000002px;width:45.40000000000009px;height:15.2px;background:#f23645;border-radius:2px 0 0 2px;"></div><div style="position:absolute;left:1151px;top:187.70000000000002px;width:65.29999999999995px;height:15.2px;background:#2962ff;border-radius:0 2px 2px 0;"></div><div style="position:absolute;left:1122.1px;top:187.70000000000002px;width:28.40000000000009px;height:15.2px;background:#2962ff;border-radius:2px 0 0 2px;"></div><div style="position:absolute;left:1151px;top:203.0px;width:65.29999999999995px;height:15.2px;background:#0000ff;border-radius:0 2px 2px 0;"></div><div style="position:absolute;left:1151px;top:251.70000000000002px;width:65.29999999999995px;height:15.2px;background:#0000ff;border-radius:0 2px 2px 0;"></div><div style="position:absolute;left:1151px;top:476.79999999999995px;width:58.799999999999955px;height:15.2px;background:#0000ff;border-radius:0 2px 2px 0;"></div><div style="position:absolute;left:1151px;top:572.9px;width:38.299999999999955px;height:15.2px;background:#7e57c2;border-radius:0 2px 2px 0;"></div><div style="position:absolute;left:1127.5px;top:572.9px;width:23.0px;height:15.2px;background:#7e57c2;border-radius:2px 0 0 2px;"></div><div style="position:absolute;left:1151px;top:587.9px;width:38.299999999999955px;height:15.2px;background:#fdd835;border-radius:0 2px 2px 0;"></div><div style="position:absolute;left:1079px;top:587.9px;width:71.5px;height:15.2px;background:#fdd835;border-radius:2px 0 0 2px;"></div><div style="position:absolute;left:1150.2px;top:132.0px;width:0.9px;height:15.2px;background:rgba(255,255,255,0.2);"></div><div style="position:absolute;left:1150.2px;top:172.70000000000002px;width:0.9px;height:15.2px;background:rgba(255,255,255,0.2);"></div><div style="position:absolute;left:1150.2px;top:187.70000000000002px;width:0.9px;height:15.2px;background:rgba(255,255,255,0.2);"></div><div style="position:absolute;left:1150.2px;top:572.9px;width:0.9px;height:15.2px;background:rgba(255,255,255,0.2);"></div><div style="position:absolute;left:1150.2px;top:587.9px;width:0.9px;height:15.2px;background:rgba(255,255,255,0.2);"></div><div style="position:absolute;left:1151px;top:25px;width:69px;height:29.6px;background:#fff;"></div><div style="position:absolute;left:1153.4px;top:28.2px;width:62.9px;height:22.6px;background:#fff;border:1px solid #eceef2;border-radius:4px;box-sizing:border-box;"></div>
<div style="position:absolute;left:0;top:0;width:1229px;height:742px;opacity:0.999;will-change:transform"><div class="t" style="left:6.50px;top:5.99px;font-size:11px;line-height:15px;color:#131722;font-weight:normal;letter-spacing:-0.141px;-webkit-text-stroke:0.2px #131722;">ranadagger created with TradingView.com, Sep 29, 2025 16:24 UTC</div><div class="t" style="left:13.30px;top:29.89px;font-size:11px;line-height:15px;color:#131722;font-weight:normal;letter-spacing:-0.061px;-webkit-text-stroke:0.2px #131722;">Bitcoin / TetherUS · 1D · Binance</div><div class="t" style="left:180.10px;top:29.89px;font-size:11px;line-height:15px;color:#131722;font-weight:normal;letter-spacing:0.000px;-webkit-text-stroke:0.2px #131722;transform:scaleX(0.8642);transform-origin:0 0;">O</div><div class="t" style="left:188.00px;top:29.89px;font-size:11px;line-height:15px;color:#26a69a;font-weight:normal;letter-spacing:-0.185px;-webkit-text-stroke:0.2px #26a69a;">112,163.96</div><div class="t" style="left:247.00px;top:29.89px;font-size:11px;line-height:15px;color:#131722;font-weight:normal;letter-spacing:0.000px;-webkit-text-stroke:0.2px #131722;transform:scaleX(0.8550);transform-origin:0 0;">H</div><div class="t" style="left:254.30px;top:29.89px;font-size:11px;line-height:15px;color:#26a69a;font-weight:normal;letter-spacing:-0.185px;-webkit-text-stroke:0.2px #26a69a;">114,231.56</div><div class="t" style="left:313.60px;top:29.89px;font-size:11px;line-height:15px;color:#131722;font-weight:normal;letter-spacing:0.000px;-webkit-text-stroke:0.2px #131722;transform:scaleX(0.8163);transform-origin:0 0;">L</div><div class="t" style="left:319.90px;top:29.89px;font-size:11px;line-height:15px;color:#26a69a;font-weight:normal;letter-spacing:-0.152px;-webkit-text-stroke:0.2px #26a69a;">111,560.65</div><div class="t" style="left:378.60px;top:29.89px;font-size:11px;line-height:15px;color:#131722;font-weight:normal;letter-spacing:0.000px;-webkit-text-stroke:0.2px #131722;transform:scaleX(0.7921);transform-origin:0 0;">C</div><div class="t" style="left:386.20px;top:29.89px;font-size:11px;line-height:15px;color:#26a69a;font-weight:normal;letter-spacing:-0.235px;-webkit-text-stroke:0.2px #26a69a;">113,895.08</div><div class="t" style="left:445.50px;top:29.89px;font-size:11px;line-height:15px;color:#26a69a;font-weight:normal;letter-spacing:-0.358px;-webkit-text-stroke:0.2px #26a69a;">+1,731.13 (+1.54%)</div><div class="t" style="left:13.30px;top:46.19px;font-size:11px;line-height:15px;color:#131722;font-weight:normal;letter-spacing:-0.283px;-webkit-text-stroke:0.2px #131722;">EMA (20, close)</div><div class="t" style="left:94.40px;top:46.19px;font-size:11px;line-height:15px;color:#2962ff;font-weight:normal;letter-spacing:-0.185px;-webkit-text-stroke:0.2px #2962ff;">112,930.99</div><div class="t" style="left:13.30px;top:61.29px;font-size:11px;line-height:15px;color:#131722;font-weight:normal;letter-spacing:-0.316px;-webkit-text-stroke:0.2px #131722;">SMA (50, close)</div><div class="t" style="left:94.00px;top:61.29px;font-size:11px;line-height:15px;color:#f23645;font-weight:normal;letter-spacing:-0.225px;-webkit-text-stroke:0.2px #f23645;">113,702.03</div><div class="t" style="left:13.40px;top:509.99px;font-size:11px;line-height:15px;color:#131722;font-weight:normal;letter-spacing:-0.317px;-webkit-text-stroke:0.2px #131722;">RSI (14, close)</div><div class="t" style="left:88.50px;top:509.99px;font-size:11px;line-height:15px;color:#7e57c2;font-weight:normal;letter-spacing:-0.286px;-webkit-text-stroke:0.2px #7e57c2;">52.35</div><div class="t" style="left:121.40px;top:509.99px;font-size:11px;line-height:15px;color:#fdd835;font-weight:normal;letter-spacing:-0.186px;-webkit-text-stroke:0.2px #fdd835;">49.40</div><div class="t" style="left:1158.50px;top:491.90px;font-size:11px;line-height:15px;color:#131722;font-weight:normal;letter-spacing:-0.282px;-webkit-text-stroke:0.2px #131722;">72,000.00</div><div class="t" style="left:1158.50px;top:457.48px;font-size:11px;line-height:15px;color:#131722;font-weight:normal;letter-spacing:-0.282px;-webkit-text-stroke:0.2px #131722;">76,000.00</div><div class="t" style="left:1158.50px;top:423.06px;font-size:11px;line-height:15px;color:#131722;font-weight:normal;letter-spacing:-0.282px;-webkit-text-stroke:0.2px #131722;">80,000.00</div><div class="t" style="left:1158.50px;top:388.64px;font-size:11px;line-height:15px;color:#131722;font-weight:normal;letter-spacing:-0.282px;-webkit-text-stroke:0.2px #131722;">84,000.00</div><div class="t" style="left:1158.50px;top:354.22px;font-size:11px;line-height:15px;color:#131722;font-weight:normal;letter-spacing:-0.282px;-webkit-text-stroke:0.2px #131722;">88,000.00</div><div class="t" style="left:1158.50px;top:319.80px;font-size:11px;line-height:15px;color:#131722;font-weight:normal;letter-spacing:-0.282px;-webkit-text-stroke:0.2px #131722;">92,000.00</div><div class="t" style="left:1158.50px;top:285.38px;font-size:11px;line-height:15px;color:#131722;font-weight:normal;letter-spacing:-0.282px;-webkit-text-stroke:0.2px #131722;">96,000.00</div><div class="t" style="left:1158.50px;top:216.54px;font-size:11px;line-height:15px;color:#131722;font-weight:normal;letter-spacing:-0.276px;-webkit-text-stroke:0.2px #131722;">104,000.00</div><div class="t" style="left:1158.50px;top:113.28px;font-size:11px;line-height:15px;color:#131722;font-weight:normal;letter-spacing:-0.195px;-webkit-text-stroke:0.2px #131722;">116,000.00</div><div class="t" style="left:1158.50px;top:78.86px;font-size:11px;line-height:15px;color:#131722;font-weight:normal;letter-spacing:-0.276px;-webkit-text-stroke:0.2px #131722;">120,000.00</div><div class="t" style="left:1158.10px;top:499.39px;font-size:11px;line-height:15px;color:#131722;font-weight:normal;letter-spacing:-0.246px;clip-path:inset(4.5px 0 0 0);-webkit-text-stroke:0.2px #131722;">80.00</div><div class="t" style="left:1158.10px;top:552.59px;font-size:11px;line-height:15px;color:#131722;font-weight:normal;letter-spacing:-0.246px;-webkit-text-stroke:0.2px #131722;">60.00</div><div class="t" style="left:1158.10px;top:605.79px;font-size:11px;line-height:15px;color:#131722;font-weight:normal;letter-spacing:-0.246px;-webkit-text-stroke:0.2px #131722;">40.00</div><div class="t" style="left:86.15px;top:668.99px;font-size:11px;line-height:15px;color:#131722;font-weight:normal;letter-spacing:0.000px;-webkit-text-stroke:0.3px #131722;transform:scaleX(0.9226);transform-origin:0 0;">Feb</div><div class="t" style="left:197.65px;top:668.99px;font-size:11px;line-height:15px;color:#131722;font-weight:normal;letter-spacing:-0.151px;-webkit-text-stroke:0.3px #131722;">Mar</div><div class="t" style="left:323.15px;top:668.99px;font-size:11px;line-height:15px;color:#131722;font-weight:normal;letter-spacing:0.125px;-webkit-text-stroke:0.3px #131722;">Apr</div><div class="t" style="left:442.90px;top:668.99px;font-size:11px;line-height:15px;color:#131722;font-weight:normal;letter-spacing:0.000px;-webkit-text-stroke:0.3px #131722;transform:scaleX(0.9143);transform-origin:0 0;">May</div><div class="t" style="left:568.40px;top:668.99px;font-size:11px;line-height:15px;color:#131722;font-weight:normal;letter-spacing:0.083px;-webkit-text-stroke:0.3px #131722;">Jun</div><div class="t" style="left:691.90px;top:668.99px;font-size:11px;line-height:15px;color:#131722;font-weight:normal;letter-spacing:-0.021px;-webkit-text-stroke:0.3px #131722;">Jul</div><div class="t" style="left:813.90px;top:668.99px;font-size:11px;line-height:15px;color:#131722;font-weight:normal;letter-spacing:-0.193px;-webkit-text-stroke:0.3px #131722;">Aug</div><div class="t" style="left:939.15px;top:668.99px;font-size:11px;line-height:15px;color:#131722;font-weight:normal;letter-spacing:-0.359px;-webkit-text-stroke:0.3px #131722;">Sep</div><div class="t" style="left:1060.15px;top:668.99px;font-size:11px;line-height:15px;color:#131722;font-weight:normal;letter-spacing:0.125px;-webkit-text-stroke:0.3px #131722;">Oct</div><div class="t" style="left:1158.60px;top:100.59px;font-size:11px;line-height:15px;color:#fff;font-weight:normal;letter-spacing:-0.195px;-webkit-text-stroke:0.35px #fff;">117,500.00</div><div class="t" style="left:1158.80px;top:131.79px;font-size:11px;line-height:15px;color:#fff;font-weight:normal;letter-spacing:-0.215px;-webkit-text-stroke:0.35px #fff;">113,895.08</div><div class="t" style="left:1158.80px;top:144.79px;font-size:11px;line-height:15px;color:#fff;font-weight:normal;letter-spacing:0.000px;-webkit-text-stroke:0.35px #fff;transform:scaleX(0.8689);transform-origin:0 0;">+23.06%</div><div class="t" style="left:1158.80px;top:157.09px;font-size:11px;line-height:15px;color:#c9e9e6;font-weight:normal;letter-spacing:-0.266px;-webkit-text-stroke:0.2px #c9e9e6;">07:35:17</div><div class="t" style="left:1102.40px;top:132.79px;font-size:11px;line-height:15px;color:#fff;font-weight:normal;letter-spacing:0.000px;-webkit-text-stroke:0.35px #fff;transform:scaleX(0.8392);transform-origin:0 0;">BTCUSDT</div><div class="t" style="left:1158.60px;top:172.59px;font-size:11px;line-height:15px;color:#fff;font-weight:normal;letter-spacing:-0.195px;-webkit-text-stroke:0.35px #fff;">113,702.03</div><div class="t" style="left:1108.90px;top:173.49px;font-size:11px;line-height:15px;color:#fff;font-weight:normal;letter-spacing:0.000px;-webkit-text-stroke:0.35px #fff;transform:scaleX(0.8593);transform-origin:0 0;">SMA:MA</div><div class="t" style="left:1158.60px;top:187.59px;font-size:11px;line-height:15px;color:#fff;font-weight:normal;letter-spacing:-0.195px;-webkit-text-stroke:0.35px #fff;">112,930.99</div><div class="t" style="left:1126.40px;top:188.49px;font-size:11px;line-height:15px;color:#fff;font-weight:normal;letter-spacing:0.000px;-webkit-text-stroke:0.35px #fff;transform:scaleX(0.8220);transform-origin:0 0;">EMA</div><div class="t" style="left:1158.60px;top:202.89px;font-size:11px;line-height:15px;color:#fff;font-weight:normal;letter-spacing:-0.276px;-webkit-text-stroke:0.35px #fff;">107,000.00</div><div class="t" style="left:1158.60px;top:251.59px;font-size:11px;line-height:15px;color:#fff;font-weight:normal;letter-spacing:-0.276px;-webkit-text-stroke:0.35px #fff;">100,000.00</div><div class="t" style="left:1158.60px;top:476.69px;font-size:11px;line-height:15px;color:#fff;font-weight:normal;letter-spacing:-0.182px;-webkit-text-stroke:0.35px #fff;">73,777.00</div><div class="t" style="left:1158.60px;top:572.79px;font-size:11px;line-height:15px;color:#fff;font-weight:normal;letter-spacing:-0.306px;-webkit-text-stroke:0.35px #fff;">52.35</div><div class="t" style="left:1131.80px;top:573.69px;font-size:11px;line-height:15px;color:#fff;font-weight:normal;letter-spacing:0.000px;-webkit-text-stroke:0.35px #fff;transform:scaleX(0.7850);transform-origin:0 0;">RSI</div><div class="t" style="left:1158.60px;top:587.79px;font-size:11px;line-height:15px;color:#131722;font-weight:normal;letter-spacing:-0.306px;-webkit-text-stroke:0.2px #131722;">49.40</div><div class="t" style="left:1082.80px;top:588.69px;font-size:11px;line-height:15px;color:#131722;font-weight:normal;letter-spacing:0.000px;-webkit-text-stroke:0.2px #131722;transform:scaleX(0.8933);transform-origin:0 0;">RSI-based MA</div><div class="t" style="left:1161.90px;top:32.76px;font-size:10.5px;line-height:15px;color:#131722;font-weight:normal;letter-spacing:0.000px;-webkit-text-stroke:0.2px #131722;transform:scaleX(0.8533);transform-origin:0 0;">USDT</div><div class="t" style="left:40.60px;top:705.26px;font-size:18px;line-height:22px;color:#131722;font-weight:bold;letter-spacing:0.300px;">TradingView</div></div>
</body></html>
